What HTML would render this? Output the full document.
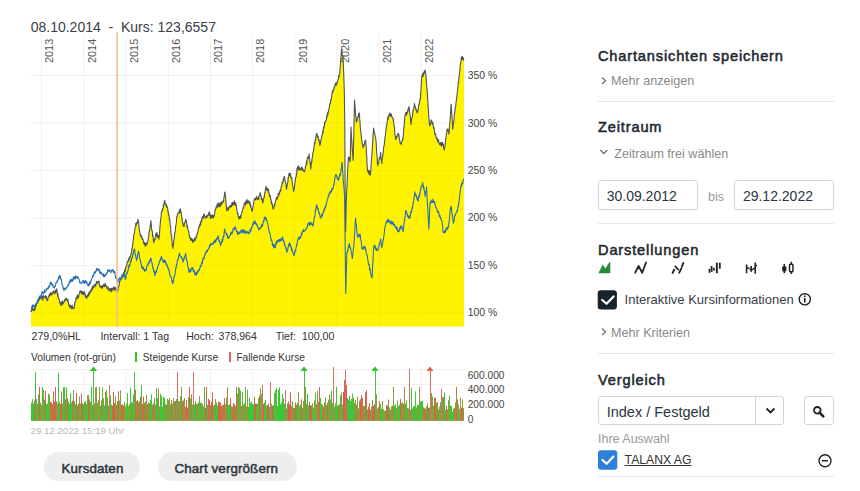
<!DOCTYPE html><html><head><meta charset="utf-8"><style>
*{margin:0;padding:0;box-sizing:border-box}
body{width:860px;height:491px;overflow:hidden;background:#fff;font-family:"Liberation Sans",sans-serif;position:relative;color:#333}
.t{position:absolute;white-space:pre;line-height:1}
.yr{position:absolute;white-space:pre;font-size:10.9px;color:#555;transform:rotate(-90deg);transform-origin:0 0;line-height:1}
.h{font-weight:normal;font-size:14.6px;letter-spacing:0.85px;color:#1e2a32;-webkit-text-stroke:0.55px #1e2a32}
.sub{font-size:12.6px;color:#8a8a8a}
.div{position:absolute;left:598px;width:236px;height:1px;background:#e8e8e8}
.inp{position:absolute;border:1px solid #d4d4d4;border-radius:3px;background:#fff}
.btn{position:absolute;background:#eeeeee;border-radius:15px;height:29px;top:452px;font-weight:normal;font-size:13.4px;letter-spacing:0.1px;color:#2b3640;-webkit-text-stroke:0.5px #2b3640}
</style></head><body>
<svg width="860" height="491" style="position:absolute;left:0;top:0">
<line x1="41.6" y1="34" x2="41.6" y2="326.5" stroke="#f0f0f0" stroke-width="1"/>
<line x1="83.8" y1="34" x2="83.8" y2="326.5" stroke="#f0f0f0" stroke-width="1"/>
<line x1="126.0" y1="34" x2="126.0" y2="326.5" stroke="#f0f0f0" stroke-width="1"/>
<line x1="168.2" y1="34" x2="168.2" y2="326.5" stroke="#f0f0f0" stroke-width="1"/>
<line x1="210.4" y1="34" x2="210.4" y2="326.5" stroke="#f0f0f0" stroke-width="1"/>
<line x1="252.6" y1="34" x2="252.6" y2="326.5" stroke="#f0f0f0" stroke-width="1"/>
<line x1="294.8" y1="34" x2="294.8" y2="326.5" stroke="#f0f0f0" stroke-width="1"/>
<line x1="337.0" y1="34" x2="337.0" y2="326.5" stroke="#f0f0f0" stroke-width="1"/>
<line x1="379.2" y1="34" x2="379.2" y2="326.5" stroke="#f0f0f0" stroke-width="1"/>
<line x1="421.4" y1="34" x2="421.4" y2="326.5" stroke="#f0f0f0" stroke-width="1"/>
<line x1="31" y1="312.9" x2="464" y2="312.9" stroke="#efefef" stroke-width="1"/>
<line x1="31" y1="265.4" x2="464" y2="265.4" stroke="#efefef" stroke-width="1"/>
<line x1="31" y1="217.9" x2="464" y2="217.9" stroke="#efefef" stroke-width="1"/>
<line x1="31" y1="170.5" x2="464" y2="170.5" stroke="#efefef" stroke-width="1"/>
<line x1="31" y1="123.0" x2="464" y2="123.0" stroke="#efefef" stroke-width="1"/>
<line x1="31" y1="75.5" x2="464" y2="75.5" stroke="#efefef" stroke-width="1"/>
<defs><clipPath id="ca"><path d="M31.00,312.00 L31.40,309.50 L31.66,310.85 L31.92,309.50 L32.18,308.64 L32.44,307.23 L32.70,310.01 L32.96,309.22 L33.22,309.98 L33.48,310.31 L33.74,309.79 L34.00,310.89 L34.26,308.62 L34.52,310.20 L34.78,308.11 L35.04,309.54 L35.30,308.85 L35.56,304.96 L35.82,304.10 L36.08,303.34 L36.34,305.81 L36.60,303.70 L36.86,303.33 L37.12,302.76 L37.38,300.66 L37.64,302.36 L37.91,301.47 L38.17,299.55 L38.43,298.55 L38.69,300.51 L38.95,300.22 L39.21,296.94 L39.47,298.75 L39.73,297.69 L39.99,295.80 L40.26,296.62 L40.52,297.91 L40.78,298.35 L41.04,295.58 L41.30,297.90 L41.55,298.19 L41.80,296.45 L42.05,296.02 L42.30,299.18 L42.55,296.74 L42.80,300.32 L43.05,299.23 L43.30,295.56 L43.55,295.92 L43.80,296.18 L44.05,296.94 L44.30,296.76 L44.55,296.65 L44.80,296.70 L45.06,297.87 L45.31,297.70 L45.57,295.45 L45.82,297.05 L46.08,298.26 L46.33,296.66 L46.59,299.16 L46.84,299.39 L47.10,300.80 L47.36,300.55 L47.63,300.59 L47.89,298.08 L48.15,297.66 L48.42,296.26 L48.68,296.36 L48.95,296.48 L49.21,294.51 L49.47,294.76 L49.74,295.80 L50.00,294.40 L50.26,292.54 L50.53,293.75 L50.79,293.65 L51.05,295.24 L51.32,293.05 L51.58,294.53 L51.85,292.55 L52.11,292.95 L52.37,294.20 L52.64,294.12 L52.90,292.70 L53.15,291.27 L53.40,292.99 L53.65,291.16 L53.90,291.57 L54.15,291.87 L54.40,292.43 L54.65,292.27 L54.90,293.64 L55.15,290.28 L55.40,290.30 L55.65,293.01 L55.90,291.77 L56.15,291.73 L56.40,289.80 L56.66,288.81 L56.91,289.86 L57.17,293.32 L57.42,293.18 L57.68,296.31 L57.93,293.62 L58.19,297.73 L58.44,297.58 L58.70,297.90 L58.96,299.46 L59.21,300.38 L59.47,299.97 L59.72,302.99 L59.98,301.86 L60.23,302.16 L60.49,302.39 L60.74,305.40 L61.00,304.90 L61.27,305.11 L61.53,301.97 L61.80,303.98 L62.07,304.97 L62.33,300.83 L62.60,301.31 L62.87,301.56 L63.13,303.16 L63.40,303.70 L63.65,302.28 L63.90,302.48 L64.15,302.09 L64.40,300.81 L64.65,299.71 L64.90,300.05 L65.15,298.93 L65.40,300.28 L65.65,300.60 L65.90,299.87 L66.15,298.15 L66.40,298.60 L66.65,299.22 L66.90,299.10 L67.16,299.38 L67.42,300.65 L67.68,301.57 L67.95,299.40 L68.21,302.20 L68.47,302.68 L68.73,304.88 L68.99,305.54 L69.25,304.68 L69.52,307.37 L69.78,307.32 L70.04,305.97 L70.30,307.20 L70.55,305.36 L70.80,305.74 L71.05,306.19 L71.30,308.62 L71.55,306.77 L71.80,305.74 L72.05,308.59 L72.30,305.28 L72.55,307.95 L72.80,307.36 L73.05,308.07 L73.30,308.63 L73.55,307.88 L73.80,308.40 L74.07,307.70 L74.33,307.59 L74.60,304.45 L74.87,302.64 L75.13,301.87 L75.40,302.05 L75.67,301.58 L75.93,298.07 L76.20,297.90 L76.45,297.68 L76.70,297.63 L76.95,298.65 L77.20,295.18 L77.45,295.08 L77.70,297.75 L77.95,298.36 L78.20,297.04 L78.45,296.35 L78.70,297.07 L78.95,294.43 L79.20,294.12 L79.45,292.75 L79.70,293.30 L79.96,290.90 L80.22,292.20 L80.48,291.55 L80.75,290.78 L81.01,292.20 L81.27,292.40 L81.53,293.94 L81.79,291.34 L82.05,294.01 L82.32,292.41 L82.58,292.28 L82.84,291.69 L83.10,292.10 L83.35,294.86 L83.60,294.21 L83.85,291.90 L84.10,292.04 L84.35,292.67 L84.60,291.98 L84.85,293.84 L85.10,295.45 L85.35,296.69 L85.60,294.65 L85.85,297.57 L86.10,296.38 L86.35,297.20 L86.60,297.30 L86.85,298.53 L87.10,295.71 L87.35,296.62 L87.60,295.05 L87.85,295.05 L88.10,296.52 L88.35,293.30 L88.60,295.41 L88.85,295.48 L89.10,291.94 L89.35,294.15 L89.60,291.75 L89.85,292.96 L90.10,292.10 L90.35,292.66 L90.60,291.67 L90.85,289.74 L91.10,290.71 L91.35,290.64 L91.60,288.42 L91.85,291.01 L92.10,288.70 L92.35,286.24 L92.60,288.63 L92.85,285.92 L93.10,286.88 L93.35,287.74 L93.60,287.40 L93.86,287.66 L94.12,285.48 L94.38,284.83 L94.64,284.42 L94.91,284.58 L95.17,285.51 L95.43,284.40 L95.69,286.37 L95.95,283.35 L96.21,283.09 L96.47,282.17 L96.73,281.51 L96.99,283.76 L97.26,283.81 L97.52,281.61 L97.78,281.28 L98.04,281.53 L98.30,281.60 L98.56,281.31 L98.81,283.10 L99.07,280.93 L99.32,283.90 L99.58,285.23 L99.83,286.54 L100.09,285.30 L100.34,287.21 L100.60,287.40 L100.86,287.21 L101.11,287.11 L101.37,285.94 L101.62,287.11 L101.88,288.45 L102.13,287.84 L102.39,285.86 L102.64,287.64 L102.90,287.02 L103.16,284.79 L103.41,285.88 L103.67,285.45 L103.92,284.08 L104.18,285.18 L104.43,286.65 L104.69,283.98 L104.94,286.09 L105.20,284.50 L105.46,283.62 L105.72,285.24 L105.98,286.19 L106.24,286.43 L106.51,285.90 L106.77,287.91 L107.03,286.68 L107.29,287.69 L107.55,288.78 L107.81,288.26 L108.07,286.77 L108.33,290.28 L108.59,289.62 L108.86,288.74 L109.12,288.61 L109.38,289.76 L109.64,290.54 L109.90,290.90 L110.16,290.32 L110.41,291.05 L110.67,288.22 L110.92,289.39 L111.18,289.82 L111.43,288.37 L111.69,291.98 L111.94,288.87 L112.20,288.32 L112.46,289.62 L112.71,288.50 L112.97,289.91 L113.22,288.57 L113.48,287.57 L113.73,287.09 L113.99,289.10 L114.24,287.00 L114.50,288.00 L114.76,289.15 L115.03,290.74 L115.29,289.14 L115.55,287.67 L115.82,287.97 L116.08,288.58 L116.35,289.65 L116.61,289.80 L116.87,289.59 L117.14,292.13 L117.40,292.10 L117.66,290.37 L117.93,291.08 L118.19,287.63 L118.45,287.37 L118.72,286.31 L118.98,285.36 L119.25,285.22 L119.51,281.09 L119.77,281.79 L120.04,281.20 L120.30,279.30 L120.57,279.84 L120.84,279.50 L121.11,279.12 L121.38,278.08 L121.65,278.02 L121.92,276.21 L122.19,278.28 L122.46,275.55 L122.73,276.44 L123.00,276.30 L123.25,276.48 L123.50,274.27 L123.75,272.10 L124.00,272.10 L124.25,273.49 L124.50,272.97 L124.75,269.50 L125.00,270.37 L125.25,271.77 L125.50,267.23 L125.75,268.17 L126.00,266.88 L126.25,267.11 L126.50,265.62 L126.75,265.76 L127.00,263.10 L127.25,261.83 L127.50,261.61 L127.75,260.94 L128.00,262.00 L128.26,260.56 L128.51,260.67 L128.77,258.87 L129.03,257.90 L129.29,259.87 L129.54,258.30 L129.80,259.16 L130.06,256.34 L130.31,256.92 L130.57,255.81 L130.83,256.75 L131.09,252.76 L131.34,252.33 L131.60,252.00 L131.85,248.13 L132.10,249.26 L132.35,246.91 L132.60,245.12 L132.85,243.69 L133.10,240.04 L133.35,240.00 L133.60,236.63 L133.85,234.39 L134.10,233.83 L134.35,233.41 L134.60,231.73 L134.85,228.83 L135.10,227.60 L135.36,226.97 L135.63,226.62 L135.89,222.96 L136.15,225.88 L136.42,223.20 L136.68,222.61 L136.95,222.52 L137.21,223.24 L137.47,222.58 L137.74,219.88 L138.00,219.40 L138.26,220.95 L138.51,222.10 L138.77,224.21 L139.02,226.59 L139.28,229.01 L139.53,231.47 L139.79,232.06 L140.04,234.33 L140.30,235.70 L140.57,234.49 L140.83,236.21 L141.10,237.10 L141.37,236.70 L141.63,235.99 L141.90,236.79 L142.17,239.62 L142.43,238.81 L142.70,239.20 L142.96,239.15 L143.21,240.50 L143.47,241.01 L143.72,243.73 L143.98,242.93 L144.23,243.04 L144.49,242.43 L144.74,244.71 L145.00,246.20 L145.26,246.25 L145.53,244.35 L145.79,243.05 L146.05,242.90 L146.32,244.46 L146.58,245.09 L146.85,245.05 L147.11,243.08 L147.37,242.61 L147.64,242.33 L147.90,240.30 L148.16,240.21 L148.43,236.75 L148.69,236.66 L148.95,232.41 L149.22,231.66 L149.48,231.22 L149.75,228.67 L150.01,227.41 L150.27,225.33 L150.54,224.07 L150.80,220.60 L151.06,222.68 L151.33,225.25 L151.59,228.74 L151.85,230.55 L152.12,231.18 L152.38,231.20 L152.65,236.11 L152.91,235.14 L153.17,236.97 L153.44,241.38 L153.70,242.70 L153.96,240.27 L154.23,239.04 L154.49,240.75 L154.75,240.07 L155.02,239.10 L155.28,237.63 L155.55,237.16 L155.81,233.20 L156.07,233.12 L156.34,235.97 L156.60,233.40 L156.87,232.70 L157.13,236.42 L157.40,234.30 L157.67,237.48 L157.93,236.79 L158.20,237.01 L158.47,235.53 L158.73,235.78 L159.00,239.20 L159.26,235.69 L159.51,234.54 L159.77,229.09 L160.02,226.28 L160.28,223.33 L160.53,220.04 L160.79,218.39 L161.04,217.26 L161.30,212.40 L161.55,212.69 L161.80,211.23 L162.05,210.04 L162.30,210.96 L162.55,209.02 L162.80,208.80 L163.05,208.95 L163.30,204.85 L163.55,206.38 L163.80,205.95 L164.05,204.76 L164.30,201.24 L164.55,203.37 L164.80,200.20 L165.06,202.87 L165.33,203.32 L165.59,204.39 L165.85,203.77 L166.12,204.07 L166.38,206.87 L166.65,205.34 L166.91,206.76 L167.17,207.51 L167.44,207.03 L167.70,209.00 L167.96,211.68 L168.21,211.09 L168.47,214.99 L168.72,214.04 L168.98,215.05 L169.23,218.67 L169.49,220.18 L169.74,219.62 L170.00,222.90 L170.26,225.44 L170.53,225.59 L170.79,229.10 L171.05,233.72 L171.32,235.82 L171.58,234.96 L171.85,240.55 L172.11,242.28 L172.37,245.99 L172.64,245.61 L172.90,248.50 L173.16,246.06 L173.41,245.52 L173.67,242.02 L173.93,239.36 L174.18,238.71 L174.44,235.90 L174.69,232.58 L174.95,232.75 L175.21,231.61 L175.46,228.04 L175.72,226.22 L175.97,225.00 L176.23,223.42 L176.49,221.15 L176.74,217.48 L177.00,215.90 L177.25,216.72 L177.50,213.69 L177.75,214.05 L178.00,213.81 L178.25,212.90 L178.50,212.43 L178.75,212.76 L179.00,212.86 L179.25,211.97 L179.50,209.74 L179.75,212.86 L180.00,211.49 L180.25,208.81 L180.50,210.10 L180.76,212.34 L181.03,211.61 L181.29,214.08 L181.55,214.49 L181.82,218.72 L182.08,217.98 L182.35,222.07 L182.61,222.56 L182.87,224.53 L183.14,223.84 L183.40,226.40 L183.66,224.69 L183.91,224.22 L184.17,226.17 L184.42,222.75 L184.68,222.88 L184.93,222.01 L185.19,221.49 L185.44,221.84 L185.70,219.40 L185.96,220.09 L186.21,220.05 L186.47,222.83 L186.72,223.11 L186.98,226.44 L187.24,227.61 L187.49,225.59 L187.75,228.26 L188.01,229.50 L188.26,229.50 L188.52,231.35 L188.78,231.39 L189.03,234.89 L189.29,235.36 L189.54,235.26 L189.80,238.00 L190.05,238.13 L190.30,237.44 L190.55,240.13 L190.80,240.50 L191.05,239.24 L191.30,239.50 L191.55,238.24 L191.80,240.28 L192.05,240.10 L192.30,239.33 L192.55,241.35 L192.80,242.63 L193.05,239.87 L193.30,240.30 L193.56,240.47 L193.82,240.43 L194.08,241.31 L194.35,239.30 L194.61,238.08 L194.87,240.93 L195.13,239.56 L195.39,238.12 L195.65,239.03 L195.92,238.45 L196.18,236.16 L196.44,237.57 L196.70,235.70 L196.97,234.82 L197.23,233.32 L197.50,233.59 L197.77,232.34 L198.03,231.01 L198.30,228.89 L198.57,229.12 L198.83,227.18 L199.10,227.60 L199.36,225.20 L199.61,225.00 L199.87,224.19 L200.12,226.08 L200.38,221.70 L200.63,224.51 L200.89,222.15 L201.14,221.40 L201.40,219.71 L201.66,221.71 L201.91,217.76 L202.17,218.52 L202.42,218.09 L202.68,216.58 L202.93,216.86 L203.19,218.59 L203.44,216.65 L203.70,214.80 L203.96,213.87 L204.21,215.16 L204.47,214.74 L204.72,216.55 L204.98,216.49 L205.23,218.48 L205.49,217.15 L205.74,217.05 L206.00,217.10 L206.27,216.32 L206.53,217.63 L206.80,215.23 L207.07,217.16 L207.33,215.56 L207.60,216.35 L207.87,215.49 L208.13,214.64 L208.40,213.60 L208.66,215.23 L208.91,212.78 L209.17,211.78 L209.42,212.05 L209.68,215.29 L209.93,213.91 L210.19,215.19 L210.44,218.69 L210.70,217.47 L210.96,215.85 L211.21,217.77 L211.47,215.10 L211.72,215.73 L211.98,217.38 L212.23,215.42 L212.49,214.99 L212.74,217.56 L213.00,218.30 L213.25,216.45 L213.50,215.51 L213.75,216.17 L214.00,216.78 L214.25,215.09 L214.50,214.97 L214.75,212.20 L215.00,210.54 L215.25,209.49 L215.50,210.09 L215.75,207.79 L216.00,208.57 L216.25,206.31 L216.50,206.60 L216.75,206.46 L217.01,204.64 L217.26,207.57 L217.52,203.76 L217.77,204.03 L218.02,206.41 L218.28,203.06 L218.53,204.70 L218.78,204.83 L219.04,203.43 L219.29,206.97 L219.55,205.74 L219.80,205.50 L220.05,202.81 L220.30,204.80 L220.55,206.54 L220.80,202.71 L221.05,205.16 L221.30,202.28 L221.55,201.72 L221.80,203.97 L222.05,202.70 L222.30,203.12 L222.55,202.13 L222.80,202.44 L223.05,200.54 L223.30,201.90 L223.58,201.76 L223.87,197.95 L224.15,196.91 L224.43,194.78 L224.72,192.51 L225.00,192.00 L225.28,195.17 L225.57,196.64 L225.85,200.12 L226.13,204.61 L226.42,208.00 L226.70,210.00 L226.95,210.79 L227.20,209.84 L227.45,208.55 L227.70,208.74 L227.95,207.40 L228.20,210.09 L228.45,210.01 L228.70,207.66 L228.95,208.40 L229.20,206.41 L229.45,206.24 L229.70,206.24 L229.95,206.02 L230.20,206.50 L230.45,205.25 L230.70,207.25 L230.95,206.38 L231.20,205.93 L231.45,206.63 L231.70,203.41 L231.95,205.19 L232.20,205.14 L232.45,202.52 L232.70,203.92 L232.95,205.32 L233.20,202.18 L233.45,204.67 L233.70,203.00 L233.96,203.72 L234.21,201.78 L234.47,200.76 L234.72,204.68 L234.98,202.73 L235.23,203.42 L235.49,205.38 L235.74,202.70 L236.00,204.20 L236.26,205.51 L236.51,206.88 L236.77,209.30 L237.03,210.88 L237.29,211.76 L237.54,213.20 L237.80,214.70 L238.05,213.53 L238.30,216.73 L238.55,217.80 L238.80,219.00 L239.05,217.71 L239.30,216.52 L239.55,217.92 L239.80,218.60 L240.06,216.55 L240.32,218.32 L240.58,215.64 L240.84,217.86 L241.09,215.30 L241.35,214.00 L241.61,213.53 L241.87,212.13 L242.13,211.74 L242.39,211.52 L242.65,209.84 L242.91,209.01 L243.16,207.58 L243.42,206.95 L243.68,207.71 L243.94,205.13 L244.20,204.20 L244.46,203.87 L244.71,203.17 L244.97,204.11 L245.22,202.10 L245.48,205.24 L245.74,201.27 L245.99,203.47 L246.25,201.04 L246.51,203.46 L246.76,200.82 L247.02,199.61 L247.28,201.53 L247.53,203.08 L247.79,202.93 L248.04,202.27 L248.30,200.70 L248.55,202.70 L248.80,201.18 L249.05,203.04 L249.30,201.38 L249.55,202.67 L249.80,204.63 L250.05,202.60 L250.30,204.09 L250.55,207.05 L250.80,204.88 L251.05,207.78 L251.30,208.07 L251.55,209.10 L251.80,210.75 L252.05,211.25 L252.30,211.20 L252.57,210.71 L252.83,207.25 L253.10,206.75 L253.37,205.26 L253.63,204.16 L253.90,201.16 L254.17,200.19 L254.43,199.16 L254.70,198.40 L254.96,199.47 L255.22,199.39 L255.48,198.34 L255.75,199.98 L256.01,198.35 L256.27,197.39 L256.53,196.53 L256.79,197.04 L257.05,198.71 L257.32,197.88 L257.58,199.67 L257.84,199.56 L258.10,199.50 L258.37,197.67 L258.63,199.61 L258.90,195.75 L259.17,196.56 L259.43,195.44 L259.70,196.13 L259.97,192.90 L260.23,192.83 L260.50,193.70 L260.76,195.52 L261.01,195.65 L261.27,198.29 L261.52,199.61 L261.78,199.81 L262.03,198.17 L262.29,200.88 L262.54,202.35 L262.80,203.00 L263.05,202.12 L263.30,199.92 L263.55,198.72 L263.80,198.40 L264.05,196.54 L264.30,197.80 L264.55,194.64 L264.80,192.21 L265.05,192.40 L265.30,190.91 L265.55,188.17 L265.80,189.89 L266.05,186.35 L266.30,186.70 L266.55,188.26 L266.80,188.47 L267.05,190.28 L267.30,188.48 L267.55,189.75 L267.80,188.89 L268.05,189.38 L268.30,192.12 L268.55,189.28 L268.80,192.61 L269.05,192.87 L269.30,195.62 L269.55,196.33 L269.80,194.90 L270.05,197.06 L270.30,195.82 L270.55,197.48 L270.80,199.91 L271.05,199.42 L271.30,203.63 L271.55,201.12 L271.80,204.02 L272.05,204.67 L272.30,203.76 L272.55,206.37 L272.80,206.90 L273.05,209.26 L273.30,208.80 L273.56,208.58 L273.82,208.10 L274.08,206.03 L274.35,204.08 L274.61,205.84 L274.87,204.73 L275.13,203.42 L275.39,201.79 L275.65,200.34 L275.92,199.64 L276.18,198.36 L276.44,197.18 L276.70,197.20 L276.96,197.66 L277.22,199.49 L277.48,197.63 L277.74,196.74 L278.01,196.74 L278.27,193.27 L278.53,196.30 L278.79,195.35 L279.05,193.92 L279.31,192.44 L279.57,193.76 L279.83,190.78 L280.09,191.61 L280.36,189.50 L280.62,191.14 L280.88,189.54 L281.14,186.98 L281.40,186.70 L281.66,186.09 L281.93,184.97 L282.19,182.01 L282.45,182.26 L282.72,183.15 L282.98,181.85 L283.25,179.17 L283.51,180.25 L283.77,177.46 L284.04,178.72 L284.30,176.30 L284.56,176.72 L284.81,179.55 L285.07,181.16 L285.32,181.35 L285.58,182.68 L285.83,183.54 L286.09,185.49 L286.34,189.29 L286.60,189.00 L286.87,185.46 L287.13,186.80 L287.40,183.04 L287.67,183.08 L287.93,181.35 L288.20,177.35 L288.47,177.46 L288.73,174.70 L289.00,174.00 L289.26,172.97 L289.53,173.70 L289.79,175.32 L290.05,173.58 L290.32,175.84 L290.58,173.86 L290.85,177.37 L291.11,177.20 L291.37,178.62 L291.64,177.34 L291.90,178.60 L292.18,181.69 L292.47,183.93 L292.75,186.04 L293.03,186.93 L293.32,190.11 L293.60,191.40 L293.86,188.95 L294.11,189.72 L294.37,187.86 L294.62,185.83 L294.88,182.81 L295.14,182.28 L295.39,179.04 L295.65,177.66 L295.91,176.84 L296.16,177.13 L296.42,172.93 L296.68,174.47 L296.93,168.41 L297.19,170.55 L297.44,167.21 L297.70,167.00 L297.96,168.72 L298.23,168.35 L298.49,165.86 L298.75,170.10 L299.01,167.93 L299.27,167.21 L299.54,167.91 L299.80,169.30 L300.06,169.46 L300.32,170.37 L300.59,168.84 L300.85,169.05 L301.11,169.44 L301.38,167.16 L301.64,168.38 L301.90,170.04 L302.16,167.33 L302.43,169.42 L302.69,168.55 L302.95,170.35 L303.21,169.48 L303.48,170.76 L303.74,171.48 L304.00,170.70 L304.25,170.82 L304.51,171.92 L304.76,170.06 L305.02,169.83 L305.27,167.00 L305.53,167.25 L305.79,165.20 L306.04,165.27 L306.30,164.20 L306.55,160.93 L306.81,164.20 L307.06,161.31 L307.31,158.42 L307.57,158.79 L307.83,156.69 L308.08,156.96 L308.34,158.48 L308.59,157.10 L308.85,156.34 L309.10,153.80 L309.38,157.47 L309.67,159.46 L309.95,160.98 L310.23,164.90 L310.52,165.04 L310.80,169.00 L311.06,166.43 L311.32,163.16 L311.58,161.44 L311.85,162.14 L312.11,158.48 L312.37,156.71 L312.63,155.95 L312.89,152.08 L313.15,152.21 L313.42,151.56 L313.68,148.86 L313.94,147.68 L314.20,145.40 L314.45,142.59 L314.70,142.35 L314.95,143.93 L315.20,139.20 L315.45,140.75 L315.70,138.80 L315.95,136.11 L316.20,137.15 L316.45,133.73 L316.70,133.50 L316.96,134.09 L317.22,134.69 L317.48,135.65 L317.75,137.74 L318.01,136.31 L318.27,137.75 L318.53,140.25 L318.79,139.13 L319.05,139.57 L319.32,142.74 L319.58,142.04 L319.84,145.44 L320.10,144.50 L320.35,142.66 L320.60,144.09 L320.85,139.59 L321.10,139.85 L321.35,139.07 L321.60,137.82 L321.85,136.12 L322.10,134.70 L322.36,135.13 L322.63,132.80 L322.89,130.15 L323.15,132.83 L323.42,127.65 L323.68,126.93 L323.95,128.14 L324.21,126.60 L324.47,125.20 L324.74,121.86 L325.00,123.00 L325.26,121.22 L325.51,121.76 L325.77,121.31 L326.02,120.08 L326.28,119.61 L326.54,117.63 L326.79,115.27 L327.05,117.37 L327.31,114.16 L327.56,112.61 L327.82,115.10 L328.08,111.87 L328.33,112.56 L328.59,110.35 L328.84,109.20 L329.10,109.00 L329.36,107.08 L329.63,105.08 L329.89,103.67 L330.15,103.21 L330.42,103.45 L330.68,99.75 L330.95,99.66 L331.21,100.21 L331.47,97.74 L331.74,95.14 L332.00,94.00 L332.26,91.36 L332.53,93.31 L332.79,90.38 L333.05,91.37 L333.32,89.25 L333.58,89.33 L333.85,89.91 L334.11,87.57 L334.37,86.55 L334.64,87.20 L334.90,85.80 L335.16,84.33 L335.41,83.26 L335.67,83.12 L335.92,83.58 L336.18,85.36 L336.43,83.21 L336.69,82.74 L336.94,84.02 L337.20,82.30 L337.45,81.52 L337.70,80.84 L337.95,79.86 L338.20,79.51 L338.45,79.32 L338.70,75.51 L338.95,77.70 L339.20,75.15 L339.45,74.06 L339.70,73.80 L339.98,70.05 L340.27,65.70 L340.55,63.19 L340.83,57.79 L341.12,55.70 L341.40,50.10 L341.68,49.77 L341.97,51.95 L342.25,54.86 L342.53,56.39 L342.82,55.97 L343.10,56.90 L343.40,65.87 L343.70,71.97 L344.00,82.28 L344.30,90.70 L344.55,108.55 L344.80,122.80 L345.20,200.00 L345.60,232.00 L345.95,216.76 L346.30,200.00 L346.55,194.26 L346.80,190.26 L347.05,184.52 L347.30,178.56 L347.55,172.98 L347.80,167.12 L348.05,163.67 L348.30,158.00 L348.57,157.17 L348.84,159.44 L349.11,158.28 L349.39,157.34 L349.66,160.31 L349.93,161.91 L350.20,160.50 L350.47,150.03 L350.73,137.95 L351.00,126.70 L351.25,131.45 L351.50,136.90 L351.75,139.90 L352.00,145.00 L352.30,149.95 L352.60,152.56 L352.90,158.02 L353.20,160.50 L353.46,146.58 L353.72,136.71 L353.98,124.79 L354.24,113.21 L354.50,100.00 L354.76,103.84 L355.01,105.91 L355.27,109.42 L355.53,114.95 L355.79,115.36 L356.04,117.68 L356.30,122.00 L356.56,121.91 L356.83,120.25 L357.09,120.84 L357.35,118.06 L357.62,118.09 L357.88,116.22 L358.15,117.02 L358.41,116.10 L358.67,113.19 L358.94,114.84 L359.20,112.80 L359.47,115.15 L359.75,119.89 L360.02,121.38 L360.30,127.23 L360.57,129.33 L360.85,132.04 L361.12,133.81 L361.40,137.00 L361.67,140.35 L361.93,140.66 L362.20,143.10 L362.47,144.60 L362.73,144.49 L363.00,148.00 L363.26,145.75 L363.52,144.81 L363.78,146.10 L364.04,145.46 L364.30,143.99 L364.56,142.56 L364.82,141.46 L365.08,140.74 L365.34,140.62 L365.60,140.00 L365.87,144.58 L366.14,145.25 L366.41,153.42 L366.69,155.81 L366.96,162.35 L367.23,166.43 L367.50,170.70 L367.75,171.13 L368.00,172.16 L368.25,170.28 L368.50,172.79 L368.75,173.87 L369.00,172.66 L369.25,170.62 L369.50,171.55 L369.75,174.92 L370.00,175.34 L370.25,175.02 L370.50,173.80 L370.76,171.23 L371.02,166.76 L371.27,161.25 L371.53,159.40 L371.79,156.44 L372.05,151.46 L372.31,149.24 L372.57,143.43 L372.83,138.44 L373.08,133.74 L373.34,132.45 L373.60,128.00 L373.87,130.10 L374.13,130.44 L374.40,133.32 L374.67,133.24 L374.93,134.79 L375.20,136.68 L375.47,137.57 L375.73,138.09 L376.00,141.00 L376.28,144.40 L376.57,150.18 L376.85,155.19 L377.13,156.21 L377.42,163.48 L377.70,165.60 L377.95,164.50 L378.20,162.59 L378.45,163.58 L378.70,162.55 L378.95,160.24 L379.20,158.00 L379.45,158.47 L379.70,159.00 L379.95,156.49 L380.20,156.93 L380.45,154.96 L380.70,152.40 L380.98,157.01 L381.25,159.80 L381.52,159.71 L381.80,163.60 L382.05,161.33 L382.30,158.93 L382.55,157.68 L382.80,155.59 L383.05,153.14 L383.30,152.81 L383.55,149.22 L383.80,146.24 L384.05,145.31 L384.30,144.95 L384.55,141.41 L384.80,140.20 L385.05,136.25 L385.30,136.22 L385.55,134.18 L385.80,130.00 L386.05,129.90 L386.30,126.33 L386.55,126.06 L386.80,125.00 L387.10,122.04 L387.40,120.92 L387.70,117.40 L387.96,119.64 L388.23,118.43 L388.49,116.32 L388.75,115.20 L389.02,114.98 L389.28,115.70 L389.55,113.02 L389.81,116.08 L390.07,113.25 L390.34,114.97 L390.60,114.00 L390.86,114.62 L391.13,116.68 L391.39,114.07 L391.65,115.95 L391.92,116.53 L392.18,116.90 L392.45,117.79 L392.71,117.67 L392.97,118.11 L393.24,120.72 L393.50,119.80 L393.76,123.47 L394.01,125.01 L394.27,126.58 L394.52,127.35 L394.78,132.76 L395.03,135.33 L395.29,136.06 L395.54,139.02 L395.80,139.50 L396.06,139.48 L396.31,136.72 L396.57,136.45 L396.82,136.36 L397.08,136.75 L397.33,134.47 L397.59,134.58 L397.84,133.94 L398.10,133.70 L398.37,133.34 L398.63,136.03 L398.90,134.75 L399.17,137.69 L399.43,139.30 L399.70,139.87 L399.97,142.16 L400.23,143.41 L400.50,143.00 L400.76,143.46 L401.01,143.15 L401.27,144.63 L401.52,141.56 L401.78,141.72 L402.03,141.24 L402.29,141.14 L402.54,138.59 L402.80,139.50 L403.06,139.20 L403.31,134.84 L403.57,132.17 L403.82,127.29 L404.08,127.71 L404.33,122.40 L404.59,119.08 L404.84,116.97 L405.10,115.10 L405.36,114.07 L405.61,115.18 L405.87,112.25 L406.12,115.07 L406.38,114.47 L406.64,114.89 L406.89,112.19 L407.15,113.40 L407.41,112.71 L407.66,110.30 L407.92,111.50 L408.18,108.60 L408.43,107.94 L408.69,106.91 L408.94,107.40 L409.20,107.00 L409.48,111.74 L409.77,113.11 L410.05,115.15 L410.33,116.12 L410.62,120.53 L410.90,124.40 L411.15,123.46 L411.40,121.21 L411.65,118.93 L411.90,117.80 L412.15,117.78 L412.40,116.91 L412.65,113.13 L412.90,112.74 L413.15,109.30 L413.40,109.38 L413.65,108.19 L413.90,107.59 L414.15,105.88 L414.40,103.50 L414.66,104.58 L414.93,106.96 L415.19,106.37 L415.45,107.79 L415.72,108.89 L415.98,110.29 L416.25,109.14 L416.51,110.72 L416.77,111.85 L417.04,112.65 L417.30,112.80 L417.56,111.98 L417.83,110.60 L418.09,110.83 L418.35,108.86 L418.62,105.66 L418.88,104.35 L419.15,104.31 L419.41,102.19 L419.67,102.71 L419.94,98.90 L420.20,100.00 L420.45,97.13 L420.70,92.77 L420.95,90.04 L421.20,85.20 L421.45,81.26 L421.70,77.20 L421.96,75.51 L422.22,75.14 L422.48,75.83 L422.75,73.38 L423.01,76.59 L423.27,75.96 L423.53,72.76 L423.79,73.60 L424.05,73.72 L424.32,70.78 L424.58,71.42 L424.84,72.56 L425.10,70.40 L425.38,70.65 L425.67,73.93 L425.95,75.55 L426.23,80.13 L426.52,83.65 L426.80,87.30 L427.05,89.90 L427.30,91.65 L427.55,96.84 L427.80,100.00 L428.08,106.11 L428.37,109.33 L428.65,114.08 L428.93,118.65 L429.22,120.27 L429.50,125.60 L429.76,125.64 L430.01,125.18 L430.27,123.71 L430.53,124.30 L430.79,123.52 L431.04,119.80 L431.30,120.90 L431.56,121.32 L431.83,122.74 L432.09,122.56 L432.35,124.13 L432.62,121.74 L432.88,123.07 L433.15,124.51 L433.41,126.11 L433.67,128.60 L433.94,127.37 L434.20,129.00 L434.46,130.14 L434.71,133.07 L434.97,134.82 L435.22,133.64 L435.48,134.92 L435.73,134.22 L435.99,137.54 L436.24,137.37 L436.50,138.40 L436.75,137.68 L437.01,138.17 L437.26,140.08 L437.52,138.69 L437.77,142.02 L438.02,140.30 L438.28,139.81 L438.53,139.67 L438.78,142.16 L439.04,142.78 L439.29,143.75 L439.55,144.39 L439.80,144.20 L440.05,145.03 L440.30,142.58 L440.55,142.97 L440.80,145.21 L441.05,144.85 L441.30,142.66 L441.55,146.17 L441.80,144.48 L442.05,144.06 L442.30,142.37 L442.55,145.14 L442.80,144.00 L443.07,143.88 L443.33,143.80 L443.60,147.90 L443.87,148.48 L444.13,149.06 L444.40,150.20 L444.66,148.13 L444.92,147.31 L445.18,143.89 L445.44,141.95 L445.70,138.88 L445.96,138.33 L446.22,134.96 L446.48,133.63 L446.74,132.52 L447.00,129.30 L447.26,131.08 L447.52,131.12 L447.79,128.89 L448.05,130.00 L448.31,131.04 L448.58,130.30 L448.84,133.96 L449.10,133.50 L449.36,128.59 L449.62,124.13 L449.89,121.50 L450.15,119.77 L450.41,115.67 L450.68,110.54 L450.94,105.95 L451.20,104.20 L451.45,108.43 L451.70,113.74 L451.95,115.94 L452.20,119.95 L452.45,123.69 L452.70,129.30 L452.96,127.70 L453.23,125.99 L453.49,122.32 L453.75,122.16 L454.01,120.05 L454.27,115.41 L454.54,112.98 L454.80,112.60 L455.07,108.96 L455.33,107.22 L455.60,107.24 L455.87,104.10 L456.13,101.82 L456.40,100.00 L456.70,97.58 L457.00,95.93 L457.30,91.99 L457.60,90.20 L457.85,87.70 L458.10,84.37 L458.35,81.61 L458.60,82.41 L458.85,78.26 L459.10,75.82 L459.35,74.88 L459.60,71.40 L459.87,71.25 L460.13,65.91 L460.40,65.29 L460.67,62.60 L460.93,61.89 L461.20,57.80 L461.46,56.95 L461.73,58.04 L461.99,59.11 L462.25,56.25 L462.51,59.32 L462.77,57.26 L463.04,59.60 L463.30,57.80 L463.65,60.24 L464.00,60.00 L464,326.5 L31,326.5 Z"/></clipPath></defs>
<path d="M31.00,312.00 L31.40,309.50 L31.66,310.85 L31.92,309.50 L32.18,308.64 L32.44,307.23 L32.70,310.01 L32.96,309.22 L33.22,309.98 L33.48,310.31 L33.74,309.79 L34.00,310.89 L34.26,308.62 L34.52,310.20 L34.78,308.11 L35.04,309.54 L35.30,308.85 L35.56,304.96 L35.82,304.10 L36.08,303.34 L36.34,305.81 L36.60,303.70 L36.86,303.33 L37.12,302.76 L37.38,300.66 L37.64,302.36 L37.91,301.47 L38.17,299.55 L38.43,298.55 L38.69,300.51 L38.95,300.22 L39.21,296.94 L39.47,298.75 L39.73,297.69 L39.99,295.80 L40.26,296.62 L40.52,297.91 L40.78,298.35 L41.04,295.58 L41.30,297.90 L41.55,298.19 L41.80,296.45 L42.05,296.02 L42.30,299.18 L42.55,296.74 L42.80,300.32 L43.05,299.23 L43.30,295.56 L43.55,295.92 L43.80,296.18 L44.05,296.94 L44.30,296.76 L44.55,296.65 L44.80,296.70 L45.06,297.87 L45.31,297.70 L45.57,295.45 L45.82,297.05 L46.08,298.26 L46.33,296.66 L46.59,299.16 L46.84,299.39 L47.10,300.80 L47.36,300.55 L47.63,300.59 L47.89,298.08 L48.15,297.66 L48.42,296.26 L48.68,296.36 L48.95,296.48 L49.21,294.51 L49.47,294.76 L49.74,295.80 L50.00,294.40 L50.26,292.54 L50.53,293.75 L50.79,293.65 L51.05,295.24 L51.32,293.05 L51.58,294.53 L51.85,292.55 L52.11,292.95 L52.37,294.20 L52.64,294.12 L52.90,292.70 L53.15,291.27 L53.40,292.99 L53.65,291.16 L53.90,291.57 L54.15,291.87 L54.40,292.43 L54.65,292.27 L54.90,293.64 L55.15,290.28 L55.40,290.30 L55.65,293.01 L55.90,291.77 L56.15,291.73 L56.40,289.80 L56.66,288.81 L56.91,289.86 L57.17,293.32 L57.42,293.18 L57.68,296.31 L57.93,293.62 L58.19,297.73 L58.44,297.58 L58.70,297.90 L58.96,299.46 L59.21,300.38 L59.47,299.97 L59.72,302.99 L59.98,301.86 L60.23,302.16 L60.49,302.39 L60.74,305.40 L61.00,304.90 L61.27,305.11 L61.53,301.97 L61.80,303.98 L62.07,304.97 L62.33,300.83 L62.60,301.31 L62.87,301.56 L63.13,303.16 L63.40,303.70 L63.65,302.28 L63.90,302.48 L64.15,302.09 L64.40,300.81 L64.65,299.71 L64.90,300.05 L65.15,298.93 L65.40,300.28 L65.65,300.60 L65.90,299.87 L66.15,298.15 L66.40,298.60 L66.65,299.22 L66.90,299.10 L67.16,299.38 L67.42,300.65 L67.68,301.57 L67.95,299.40 L68.21,302.20 L68.47,302.68 L68.73,304.88 L68.99,305.54 L69.25,304.68 L69.52,307.37 L69.78,307.32 L70.04,305.97 L70.30,307.20 L70.55,305.36 L70.80,305.74 L71.05,306.19 L71.30,308.62 L71.55,306.77 L71.80,305.74 L72.05,308.59 L72.30,305.28 L72.55,307.95 L72.80,307.36 L73.05,308.07 L73.30,308.63 L73.55,307.88 L73.80,308.40 L74.07,307.70 L74.33,307.59 L74.60,304.45 L74.87,302.64 L75.13,301.87 L75.40,302.05 L75.67,301.58 L75.93,298.07 L76.20,297.90 L76.45,297.68 L76.70,297.63 L76.95,298.65 L77.20,295.18 L77.45,295.08 L77.70,297.75 L77.95,298.36 L78.20,297.04 L78.45,296.35 L78.70,297.07 L78.95,294.43 L79.20,294.12 L79.45,292.75 L79.70,293.30 L79.96,290.90 L80.22,292.20 L80.48,291.55 L80.75,290.78 L81.01,292.20 L81.27,292.40 L81.53,293.94 L81.79,291.34 L82.05,294.01 L82.32,292.41 L82.58,292.28 L82.84,291.69 L83.10,292.10 L83.35,294.86 L83.60,294.21 L83.85,291.90 L84.10,292.04 L84.35,292.67 L84.60,291.98 L84.85,293.84 L85.10,295.45 L85.35,296.69 L85.60,294.65 L85.85,297.57 L86.10,296.38 L86.35,297.20 L86.60,297.30 L86.85,298.53 L87.10,295.71 L87.35,296.62 L87.60,295.05 L87.85,295.05 L88.10,296.52 L88.35,293.30 L88.60,295.41 L88.85,295.48 L89.10,291.94 L89.35,294.15 L89.60,291.75 L89.85,292.96 L90.10,292.10 L90.35,292.66 L90.60,291.67 L90.85,289.74 L91.10,290.71 L91.35,290.64 L91.60,288.42 L91.85,291.01 L92.10,288.70 L92.35,286.24 L92.60,288.63 L92.85,285.92 L93.10,286.88 L93.35,287.74 L93.60,287.40 L93.86,287.66 L94.12,285.48 L94.38,284.83 L94.64,284.42 L94.91,284.58 L95.17,285.51 L95.43,284.40 L95.69,286.37 L95.95,283.35 L96.21,283.09 L96.47,282.17 L96.73,281.51 L96.99,283.76 L97.26,283.81 L97.52,281.61 L97.78,281.28 L98.04,281.53 L98.30,281.60 L98.56,281.31 L98.81,283.10 L99.07,280.93 L99.32,283.90 L99.58,285.23 L99.83,286.54 L100.09,285.30 L100.34,287.21 L100.60,287.40 L100.86,287.21 L101.11,287.11 L101.37,285.94 L101.62,287.11 L101.88,288.45 L102.13,287.84 L102.39,285.86 L102.64,287.64 L102.90,287.02 L103.16,284.79 L103.41,285.88 L103.67,285.45 L103.92,284.08 L104.18,285.18 L104.43,286.65 L104.69,283.98 L104.94,286.09 L105.20,284.50 L105.46,283.62 L105.72,285.24 L105.98,286.19 L106.24,286.43 L106.51,285.90 L106.77,287.91 L107.03,286.68 L107.29,287.69 L107.55,288.78 L107.81,288.26 L108.07,286.77 L108.33,290.28 L108.59,289.62 L108.86,288.74 L109.12,288.61 L109.38,289.76 L109.64,290.54 L109.90,290.90 L110.16,290.32 L110.41,291.05 L110.67,288.22 L110.92,289.39 L111.18,289.82 L111.43,288.37 L111.69,291.98 L111.94,288.87 L112.20,288.32 L112.46,289.62 L112.71,288.50 L112.97,289.91 L113.22,288.57 L113.48,287.57 L113.73,287.09 L113.99,289.10 L114.24,287.00 L114.50,288.00 L114.76,289.15 L115.03,290.74 L115.29,289.14 L115.55,287.67 L115.82,287.97 L116.08,288.58 L116.35,289.65 L116.61,289.80 L116.87,289.59 L117.14,292.13 L117.40,292.10 L117.66,290.37 L117.93,291.08 L118.19,287.63 L118.45,287.37 L118.72,286.31 L118.98,285.36 L119.25,285.22 L119.51,281.09 L119.77,281.79 L120.04,281.20 L120.30,279.30 L120.57,279.84 L120.84,279.50 L121.11,279.12 L121.38,278.08 L121.65,278.02 L121.92,276.21 L122.19,278.28 L122.46,275.55 L122.73,276.44 L123.00,276.30 L123.25,276.48 L123.50,274.27 L123.75,272.10 L124.00,272.10 L124.25,273.49 L124.50,272.97 L124.75,269.50 L125.00,270.37 L125.25,271.77 L125.50,267.23 L125.75,268.17 L126.00,266.88 L126.25,267.11 L126.50,265.62 L126.75,265.76 L127.00,263.10 L127.25,261.83 L127.50,261.61 L127.75,260.94 L128.00,262.00 L128.26,260.56 L128.51,260.67 L128.77,258.87 L129.03,257.90 L129.29,259.87 L129.54,258.30 L129.80,259.16 L130.06,256.34 L130.31,256.92 L130.57,255.81 L130.83,256.75 L131.09,252.76 L131.34,252.33 L131.60,252.00 L131.85,248.13 L132.10,249.26 L132.35,246.91 L132.60,245.12 L132.85,243.69 L133.10,240.04 L133.35,240.00 L133.60,236.63 L133.85,234.39 L134.10,233.83 L134.35,233.41 L134.60,231.73 L134.85,228.83 L135.10,227.60 L135.36,226.97 L135.63,226.62 L135.89,222.96 L136.15,225.88 L136.42,223.20 L136.68,222.61 L136.95,222.52 L137.21,223.24 L137.47,222.58 L137.74,219.88 L138.00,219.40 L138.26,220.95 L138.51,222.10 L138.77,224.21 L139.02,226.59 L139.28,229.01 L139.53,231.47 L139.79,232.06 L140.04,234.33 L140.30,235.70 L140.57,234.49 L140.83,236.21 L141.10,237.10 L141.37,236.70 L141.63,235.99 L141.90,236.79 L142.17,239.62 L142.43,238.81 L142.70,239.20 L142.96,239.15 L143.21,240.50 L143.47,241.01 L143.72,243.73 L143.98,242.93 L144.23,243.04 L144.49,242.43 L144.74,244.71 L145.00,246.20 L145.26,246.25 L145.53,244.35 L145.79,243.05 L146.05,242.90 L146.32,244.46 L146.58,245.09 L146.85,245.05 L147.11,243.08 L147.37,242.61 L147.64,242.33 L147.90,240.30 L148.16,240.21 L148.43,236.75 L148.69,236.66 L148.95,232.41 L149.22,231.66 L149.48,231.22 L149.75,228.67 L150.01,227.41 L150.27,225.33 L150.54,224.07 L150.80,220.60 L151.06,222.68 L151.33,225.25 L151.59,228.74 L151.85,230.55 L152.12,231.18 L152.38,231.20 L152.65,236.11 L152.91,235.14 L153.17,236.97 L153.44,241.38 L153.70,242.70 L153.96,240.27 L154.23,239.04 L154.49,240.75 L154.75,240.07 L155.02,239.10 L155.28,237.63 L155.55,237.16 L155.81,233.20 L156.07,233.12 L156.34,235.97 L156.60,233.40 L156.87,232.70 L157.13,236.42 L157.40,234.30 L157.67,237.48 L157.93,236.79 L158.20,237.01 L158.47,235.53 L158.73,235.78 L159.00,239.20 L159.26,235.69 L159.51,234.54 L159.77,229.09 L160.02,226.28 L160.28,223.33 L160.53,220.04 L160.79,218.39 L161.04,217.26 L161.30,212.40 L161.55,212.69 L161.80,211.23 L162.05,210.04 L162.30,210.96 L162.55,209.02 L162.80,208.80 L163.05,208.95 L163.30,204.85 L163.55,206.38 L163.80,205.95 L164.05,204.76 L164.30,201.24 L164.55,203.37 L164.80,200.20 L165.06,202.87 L165.33,203.32 L165.59,204.39 L165.85,203.77 L166.12,204.07 L166.38,206.87 L166.65,205.34 L166.91,206.76 L167.17,207.51 L167.44,207.03 L167.70,209.00 L167.96,211.68 L168.21,211.09 L168.47,214.99 L168.72,214.04 L168.98,215.05 L169.23,218.67 L169.49,220.18 L169.74,219.62 L170.00,222.90 L170.26,225.44 L170.53,225.59 L170.79,229.10 L171.05,233.72 L171.32,235.82 L171.58,234.96 L171.85,240.55 L172.11,242.28 L172.37,245.99 L172.64,245.61 L172.90,248.50 L173.16,246.06 L173.41,245.52 L173.67,242.02 L173.93,239.36 L174.18,238.71 L174.44,235.90 L174.69,232.58 L174.95,232.75 L175.21,231.61 L175.46,228.04 L175.72,226.22 L175.97,225.00 L176.23,223.42 L176.49,221.15 L176.74,217.48 L177.00,215.90 L177.25,216.72 L177.50,213.69 L177.75,214.05 L178.00,213.81 L178.25,212.90 L178.50,212.43 L178.75,212.76 L179.00,212.86 L179.25,211.97 L179.50,209.74 L179.75,212.86 L180.00,211.49 L180.25,208.81 L180.50,210.10 L180.76,212.34 L181.03,211.61 L181.29,214.08 L181.55,214.49 L181.82,218.72 L182.08,217.98 L182.35,222.07 L182.61,222.56 L182.87,224.53 L183.14,223.84 L183.40,226.40 L183.66,224.69 L183.91,224.22 L184.17,226.17 L184.42,222.75 L184.68,222.88 L184.93,222.01 L185.19,221.49 L185.44,221.84 L185.70,219.40 L185.96,220.09 L186.21,220.05 L186.47,222.83 L186.72,223.11 L186.98,226.44 L187.24,227.61 L187.49,225.59 L187.75,228.26 L188.01,229.50 L188.26,229.50 L188.52,231.35 L188.78,231.39 L189.03,234.89 L189.29,235.36 L189.54,235.26 L189.80,238.00 L190.05,238.13 L190.30,237.44 L190.55,240.13 L190.80,240.50 L191.05,239.24 L191.30,239.50 L191.55,238.24 L191.80,240.28 L192.05,240.10 L192.30,239.33 L192.55,241.35 L192.80,242.63 L193.05,239.87 L193.30,240.30 L193.56,240.47 L193.82,240.43 L194.08,241.31 L194.35,239.30 L194.61,238.08 L194.87,240.93 L195.13,239.56 L195.39,238.12 L195.65,239.03 L195.92,238.45 L196.18,236.16 L196.44,237.57 L196.70,235.70 L196.97,234.82 L197.23,233.32 L197.50,233.59 L197.77,232.34 L198.03,231.01 L198.30,228.89 L198.57,229.12 L198.83,227.18 L199.10,227.60 L199.36,225.20 L199.61,225.00 L199.87,224.19 L200.12,226.08 L200.38,221.70 L200.63,224.51 L200.89,222.15 L201.14,221.40 L201.40,219.71 L201.66,221.71 L201.91,217.76 L202.17,218.52 L202.42,218.09 L202.68,216.58 L202.93,216.86 L203.19,218.59 L203.44,216.65 L203.70,214.80 L203.96,213.87 L204.21,215.16 L204.47,214.74 L204.72,216.55 L204.98,216.49 L205.23,218.48 L205.49,217.15 L205.74,217.05 L206.00,217.10 L206.27,216.32 L206.53,217.63 L206.80,215.23 L207.07,217.16 L207.33,215.56 L207.60,216.35 L207.87,215.49 L208.13,214.64 L208.40,213.60 L208.66,215.23 L208.91,212.78 L209.17,211.78 L209.42,212.05 L209.68,215.29 L209.93,213.91 L210.19,215.19 L210.44,218.69 L210.70,217.47 L210.96,215.85 L211.21,217.77 L211.47,215.10 L211.72,215.73 L211.98,217.38 L212.23,215.42 L212.49,214.99 L212.74,217.56 L213.00,218.30 L213.25,216.45 L213.50,215.51 L213.75,216.17 L214.00,216.78 L214.25,215.09 L214.50,214.97 L214.75,212.20 L215.00,210.54 L215.25,209.49 L215.50,210.09 L215.75,207.79 L216.00,208.57 L216.25,206.31 L216.50,206.60 L216.75,206.46 L217.01,204.64 L217.26,207.57 L217.52,203.76 L217.77,204.03 L218.02,206.41 L218.28,203.06 L218.53,204.70 L218.78,204.83 L219.04,203.43 L219.29,206.97 L219.55,205.74 L219.80,205.50 L220.05,202.81 L220.30,204.80 L220.55,206.54 L220.80,202.71 L221.05,205.16 L221.30,202.28 L221.55,201.72 L221.80,203.97 L222.05,202.70 L222.30,203.12 L222.55,202.13 L222.80,202.44 L223.05,200.54 L223.30,201.90 L223.58,201.76 L223.87,197.95 L224.15,196.91 L224.43,194.78 L224.72,192.51 L225.00,192.00 L225.28,195.17 L225.57,196.64 L225.85,200.12 L226.13,204.61 L226.42,208.00 L226.70,210.00 L226.95,210.79 L227.20,209.84 L227.45,208.55 L227.70,208.74 L227.95,207.40 L228.20,210.09 L228.45,210.01 L228.70,207.66 L228.95,208.40 L229.20,206.41 L229.45,206.24 L229.70,206.24 L229.95,206.02 L230.20,206.50 L230.45,205.25 L230.70,207.25 L230.95,206.38 L231.20,205.93 L231.45,206.63 L231.70,203.41 L231.95,205.19 L232.20,205.14 L232.45,202.52 L232.70,203.92 L232.95,205.32 L233.20,202.18 L233.45,204.67 L233.70,203.00 L233.96,203.72 L234.21,201.78 L234.47,200.76 L234.72,204.68 L234.98,202.73 L235.23,203.42 L235.49,205.38 L235.74,202.70 L236.00,204.20 L236.26,205.51 L236.51,206.88 L236.77,209.30 L237.03,210.88 L237.29,211.76 L237.54,213.20 L237.80,214.70 L238.05,213.53 L238.30,216.73 L238.55,217.80 L238.80,219.00 L239.05,217.71 L239.30,216.52 L239.55,217.92 L239.80,218.60 L240.06,216.55 L240.32,218.32 L240.58,215.64 L240.84,217.86 L241.09,215.30 L241.35,214.00 L241.61,213.53 L241.87,212.13 L242.13,211.74 L242.39,211.52 L242.65,209.84 L242.91,209.01 L243.16,207.58 L243.42,206.95 L243.68,207.71 L243.94,205.13 L244.20,204.20 L244.46,203.87 L244.71,203.17 L244.97,204.11 L245.22,202.10 L245.48,205.24 L245.74,201.27 L245.99,203.47 L246.25,201.04 L246.51,203.46 L246.76,200.82 L247.02,199.61 L247.28,201.53 L247.53,203.08 L247.79,202.93 L248.04,202.27 L248.30,200.70 L248.55,202.70 L248.80,201.18 L249.05,203.04 L249.30,201.38 L249.55,202.67 L249.80,204.63 L250.05,202.60 L250.30,204.09 L250.55,207.05 L250.80,204.88 L251.05,207.78 L251.30,208.07 L251.55,209.10 L251.80,210.75 L252.05,211.25 L252.30,211.20 L252.57,210.71 L252.83,207.25 L253.10,206.75 L253.37,205.26 L253.63,204.16 L253.90,201.16 L254.17,200.19 L254.43,199.16 L254.70,198.40 L254.96,199.47 L255.22,199.39 L255.48,198.34 L255.75,199.98 L256.01,198.35 L256.27,197.39 L256.53,196.53 L256.79,197.04 L257.05,198.71 L257.32,197.88 L257.58,199.67 L257.84,199.56 L258.10,199.50 L258.37,197.67 L258.63,199.61 L258.90,195.75 L259.17,196.56 L259.43,195.44 L259.70,196.13 L259.97,192.90 L260.23,192.83 L260.50,193.70 L260.76,195.52 L261.01,195.65 L261.27,198.29 L261.52,199.61 L261.78,199.81 L262.03,198.17 L262.29,200.88 L262.54,202.35 L262.80,203.00 L263.05,202.12 L263.30,199.92 L263.55,198.72 L263.80,198.40 L264.05,196.54 L264.30,197.80 L264.55,194.64 L264.80,192.21 L265.05,192.40 L265.30,190.91 L265.55,188.17 L265.80,189.89 L266.05,186.35 L266.30,186.70 L266.55,188.26 L266.80,188.47 L267.05,190.28 L267.30,188.48 L267.55,189.75 L267.80,188.89 L268.05,189.38 L268.30,192.12 L268.55,189.28 L268.80,192.61 L269.05,192.87 L269.30,195.62 L269.55,196.33 L269.80,194.90 L270.05,197.06 L270.30,195.82 L270.55,197.48 L270.80,199.91 L271.05,199.42 L271.30,203.63 L271.55,201.12 L271.80,204.02 L272.05,204.67 L272.30,203.76 L272.55,206.37 L272.80,206.90 L273.05,209.26 L273.30,208.80 L273.56,208.58 L273.82,208.10 L274.08,206.03 L274.35,204.08 L274.61,205.84 L274.87,204.73 L275.13,203.42 L275.39,201.79 L275.65,200.34 L275.92,199.64 L276.18,198.36 L276.44,197.18 L276.70,197.20 L276.96,197.66 L277.22,199.49 L277.48,197.63 L277.74,196.74 L278.01,196.74 L278.27,193.27 L278.53,196.30 L278.79,195.35 L279.05,193.92 L279.31,192.44 L279.57,193.76 L279.83,190.78 L280.09,191.61 L280.36,189.50 L280.62,191.14 L280.88,189.54 L281.14,186.98 L281.40,186.70 L281.66,186.09 L281.93,184.97 L282.19,182.01 L282.45,182.26 L282.72,183.15 L282.98,181.85 L283.25,179.17 L283.51,180.25 L283.77,177.46 L284.04,178.72 L284.30,176.30 L284.56,176.72 L284.81,179.55 L285.07,181.16 L285.32,181.35 L285.58,182.68 L285.83,183.54 L286.09,185.49 L286.34,189.29 L286.60,189.00 L286.87,185.46 L287.13,186.80 L287.40,183.04 L287.67,183.08 L287.93,181.35 L288.20,177.35 L288.47,177.46 L288.73,174.70 L289.00,174.00 L289.26,172.97 L289.53,173.70 L289.79,175.32 L290.05,173.58 L290.32,175.84 L290.58,173.86 L290.85,177.37 L291.11,177.20 L291.37,178.62 L291.64,177.34 L291.90,178.60 L292.18,181.69 L292.47,183.93 L292.75,186.04 L293.03,186.93 L293.32,190.11 L293.60,191.40 L293.86,188.95 L294.11,189.72 L294.37,187.86 L294.62,185.83 L294.88,182.81 L295.14,182.28 L295.39,179.04 L295.65,177.66 L295.91,176.84 L296.16,177.13 L296.42,172.93 L296.68,174.47 L296.93,168.41 L297.19,170.55 L297.44,167.21 L297.70,167.00 L297.96,168.72 L298.23,168.35 L298.49,165.86 L298.75,170.10 L299.01,167.93 L299.27,167.21 L299.54,167.91 L299.80,169.30 L300.06,169.46 L300.32,170.37 L300.59,168.84 L300.85,169.05 L301.11,169.44 L301.38,167.16 L301.64,168.38 L301.90,170.04 L302.16,167.33 L302.43,169.42 L302.69,168.55 L302.95,170.35 L303.21,169.48 L303.48,170.76 L303.74,171.48 L304.00,170.70 L304.25,170.82 L304.51,171.92 L304.76,170.06 L305.02,169.83 L305.27,167.00 L305.53,167.25 L305.79,165.20 L306.04,165.27 L306.30,164.20 L306.55,160.93 L306.81,164.20 L307.06,161.31 L307.31,158.42 L307.57,158.79 L307.83,156.69 L308.08,156.96 L308.34,158.48 L308.59,157.10 L308.85,156.34 L309.10,153.80 L309.38,157.47 L309.67,159.46 L309.95,160.98 L310.23,164.90 L310.52,165.04 L310.80,169.00 L311.06,166.43 L311.32,163.16 L311.58,161.44 L311.85,162.14 L312.11,158.48 L312.37,156.71 L312.63,155.95 L312.89,152.08 L313.15,152.21 L313.42,151.56 L313.68,148.86 L313.94,147.68 L314.20,145.40 L314.45,142.59 L314.70,142.35 L314.95,143.93 L315.20,139.20 L315.45,140.75 L315.70,138.80 L315.95,136.11 L316.20,137.15 L316.45,133.73 L316.70,133.50 L316.96,134.09 L317.22,134.69 L317.48,135.65 L317.75,137.74 L318.01,136.31 L318.27,137.75 L318.53,140.25 L318.79,139.13 L319.05,139.57 L319.32,142.74 L319.58,142.04 L319.84,145.44 L320.10,144.50 L320.35,142.66 L320.60,144.09 L320.85,139.59 L321.10,139.85 L321.35,139.07 L321.60,137.82 L321.85,136.12 L322.10,134.70 L322.36,135.13 L322.63,132.80 L322.89,130.15 L323.15,132.83 L323.42,127.65 L323.68,126.93 L323.95,128.14 L324.21,126.60 L324.47,125.20 L324.74,121.86 L325.00,123.00 L325.26,121.22 L325.51,121.76 L325.77,121.31 L326.02,120.08 L326.28,119.61 L326.54,117.63 L326.79,115.27 L327.05,117.37 L327.31,114.16 L327.56,112.61 L327.82,115.10 L328.08,111.87 L328.33,112.56 L328.59,110.35 L328.84,109.20 L329.10,109.00 L329.36,107.08 L329.63,105.08 L329.89,103.67 L330.15,103.21 L330.42,103.45 L330.68,99.75 L330.95,99.66 L331.21,100.21 L331.47,97.74 L331.74,95.14 L332.00,94.00 L332.26,91.36 L332.53,93.31 L332.79,90.38 L333.05,91.37 L333.32,89.25 L333.58,89.33 L333.85,89.91 L334.11,87.57 L334.37,86.55 L334.64,87.20 L334.90,85.80 L335.16,84.33 L335.41,83.26 L335.67,83.12 L335.92,83.58 L336.18,85.36 L336.43,83.21 L336.69,82.74 L336.94,84.02 L337.20,82.30 L337.45,81.52 L337.70,80.84 L337.95,79.86 L338.20,79.51 L338.45,79.32 L338.70,75.51 L338.95,77.70 L339.20,75.15 L339.45,74.06 L339.70,73.80 L339.98,70.05 L340.27,65.70 L340.55,63.19 L340.83,57.79 L341.12,55.70 L341.40,50.10 L341.68,49.77 L341.97,51.95 L342.25,54.86 L342.53,56.39 L342.82,55.97 L343.10,56.90 L343.40,65.87 L343.70,71.97 L344.00,82.28 L344.30,90.70 L344.55,108.55 L344.80,122.80 L345.20,200.00 L345.60,232.00 L345.95,216.76 L346.30,200.00 L346.55,194.26 L346.80,190.26 L347.05,184.52 L347.30,178.56 L347.55,172.98 L347.80,167.12 L348.05,163.67 L348.30,158.00 L348.57,157.17 L348.84,159.44 L349.11,158.28 L349.39,157.34 L349.66,160.31 L349.93,161.91 L350.20,160.50 L350.47,150.03 L350.73,137.95 L351.00,126.70 L351.25,131.45 L351.50,136.90 L351.75,139.90 L352.00,145.00 L352.30,149.95 L352.60,152.56 L352.90,158.02 L353.20,160.50 L353.46,146.58 L353.72,136.71 L353.98,124.79 L354.24,113.21 L354.50,100.00 L354.76,103.84 L355.01,105.91 L355.27,109.42 L355.53,114.95 L355.79,115.36 L356.04,117.68 L356.30,122.00 L356.56,121.91 L356.83,120.25 L357.09,120.84 L357.35,118.06 L357.62,118.09 L357.88,116.22 L358.15,117.02 L358.41,116.10 L358.67,113.19 L358.94,114.84 L359.20,112.80 L359.47,115.15 L359.75,119.89 L360.02,121.38 L360.30,127.23 L360.57,129.33 L360.85,132.04 L361.12,133.81 L361.40,137.00 L361.67,140.35 L361.93,140.66 L362.20,143.10 L362.47,144.60 L362.73,144.49 L363.00,148.00 L363.26,145.75 L363.52,144.81 L363.78,146.10 L364.04,145.46 L364.30,143.99 L364.56,142.56 L364.82,141.46 L365.08,140.74 L365.34,140.62 L365.60,140.00 L365.87,144.58 L366.14,145.25 L366.41,153.42 L366.69,155.81 L366.96,162.35 L367.23,166.43 L367.50,170.70 L367.75,171.13 L368.00,172.16 L368.25,170.28 L368.50,172.79 L368.75,173.87 L369.00,172.66 L369.25,170.62 L369.50,171.55 L369.75,174.92 L370.00,175.34 L370.25,175.02 L370.50,173.80 L370.76,171.23 L371.02,166.76 L371.27,161.25 L371.53,159.40 L371.79,156.44 L372.05,151.46 L372.31,149.24 L372.57,143.43 L372.83,138.44 L373.08,133.74 L373.34,132.45 L373.60,128.00 L373.87,130.10 L374.13,130.44 L374.40,133.32 L374.67,133.24 L374.93,134.79 L375.20,136.68 L375.47,137.57 L375.73,138.09 L376.00,141.00 L376.28,144.40 L376.57,150.18 L376.85,155.19 L377.13,156.21 L377.42,163.48 L377.70,165.60 L377.95,164.50 L378.20,162.59 L378.45,163.58 L378.70,162.55 L378.95,160.24 L379.20,158.00 L379.45,158.47 L379.70,159.00 L379.95,156.49 L380.20,156.93 L380.45,154.96 L380.70,152.40 L380.98,157.01 L381.25,159.80 L381.52,159.71 L381.80,163.60 L382.05,161.33 L382.30,158.93 L382.55,157.68 L382.80,155.59 L383.05,153.14 L383.30,152.81 L383.55,149.22 L383.80,146.24 L384.05,145.31 L384.30,144.95 L384.55,141.41 L384.80,140.20 L385.05,136.25 L385.30,136.22 L385.55,134.18 L385.80,130.00 L386.05,129.90 L386.30,126.33 L386.55,126.06 L386.80,125.00 L387.10,122.04 L387.40,120.92 L387.70,117.40 L387.96,119.64 L388.23,118.43 L388.49,116.32 L388.75,115.20 L389.02,114.98 L389.28,115.70 L389.55,113.02 L389.81,116.08 L390.07,113.25 L390.34,114.97 L390.60,114.00 L390.86,114.62 L391.13,116.68 L391.39,114.07 L391.65,115.95 L391.92,116.53 L392.18,116.90 L392.45,117.79 L392.71,117.67 L392.97,118.11 L393.24,120.72 L393.50,119.80 L393.76,123.47 L394.01,125.01 L394.27,126.58 L394.52,127.35 L394.78,132.76 L395.03,135.33 L395.29,136.06 L395.54,139.02 L395.80,139.50 L396.06,139.48 L396.31,136.72 L396.57,136.45 L396.82,136.36 L397.08,136.75 L397.33,134.47 L397.59,134.58 L397.84,133.94 L398.10,133.70 L398.37,133.34 L398.63,136.03 L398.90,134.75 L399.17,137.69 L399.43,139.30 L399.70,139.87 L399.97,142.16 L400.23,143.41 L400.50,143.00 L400.76,143.46 L401.01,143.15 L401.27,144.63 L401.52,141.56 L401.78,141.72 L402.03,141.24 L402.29,141.14 L402.54,138.59 L402.80,139.50 L403.06,139.20 L403.31,134.84 L403.57,132.17 L403.82,127.29 L404.08,127.71 L404.33,122.40 L404.59,119.08 L404.84,116.97 L405.10,115.10 L405.36,114.07 L405.61,115.18 L405.87,112.25 L406.12,115.07 L406.38,114.47 L406.64,114.89 L406.89,112.19 L407.15,113.40 L407.41,112.71 L407.66,110.30 L407.92,111.50 L408.18,108.60 L408.43,107.94 L408.69,106.91 L408.94,107.40 L409.20,107.00 L409.48,111.74 L409.77,113.11 L410.05,115.15 L410.33,116.12 L410.62,120.53 L410.90,124.40 L411.15,123.46 L411.40,121.21 L411.65,118.93 L411.90,117.80 L412.15,117.78 L412.40,116.91 L412.65,113.13 L412.90,112.74 L413.15,109.30 L413.40,109.38 L413.65,108.19 L413.90,107.59 L414.15,105.88 L414.40,103.50 L414.66,104.58 L414.93,106.96 L415.19,106.37 L415.45,107.79 L415.72,108.89 L415.98,110.29 L416.25,109.14 L416.51,110.72 L416.77,111.85 L417.04,112.65 L417.30,112.80 L417.56,111.98 L417.83,110.60 L418.09,110.83 L418.35,108.86 L418.62,105.66 L418.88,104.35 L419.15,104.31 L419.41,102.19 L419.67,102.71 L419.94,98.90 L420.20,100.00 L420.45,97.13 L420.70,92.77 L420.95,90.04 L421.20,85.20 L421.45,81.26 L421.70,77.20 L421.96,75.51 L422.22,75.14 L422.48,75.83 L422.75,73.38 L423.01,76.59 L423.27,75.96 L423.53,72.76 L423.79,73.60 L424.05,73.72 L424.32,70.78 L424.58,71.42 L424.84,72.56 L425.10,70.40 L425.38,70.65 L425.67,73.93 L425.95,75.55 L426.23,80.13 L426.52,83.65 L426.80,87.30 L427.05,89.90 L427.30,91.65 L427.55,96.84 L427.80,100.00 L428.08,106.11 L428.37,109.33 L428.65,114.08 L428.93,118.65 L429.22,120.27 L429.50,125.60 L429.76,125.64 L430.01,125.18 L430.27,123.71 L430.53,124.30 L430.79,123.52 L431.04,119.80 L431.30,120.90 L431.56,121.32 L431.83,122.74 L432.09,122.56 L432.35,124.13 L432.62,121.74 L432.88,123.07 L433.15,124.51 L433.41,126.11 L433.67,128.60 L433.94,127.37 L434.20,129.00 L434.46,130.14 L434.71,133.07 L434.97,134.82 L435.22,133.64 L435.48,134.92 L435.73,134.22 L435.99,137.54 L436.24,137.37 L436.50,138.40 L436.75,137.68 L437.01,138.17 L437.26,140.08 L437.52,138.69 L437.77,142.02 L438.02,140.30 L438.28,139.81 L438.53,139.67 L438.78,142.16 L439.04,142.78 L439.29,143.75 L439.55,144.39 L439.80,144.20 L440.05,145.03 L440.30,142.58 L440.55,142.97 L440.80,145.21 L441.05,144.85 L441.30,142.66 L441.55,146.17 L441.80,144.48 L442.05,144.06 L442.30,142.37 L442.55,145.14 L442.80,144.00 L443.07,143.88 L443.33,143.80 L443.60,147.90 L443.87,148.48 L444.13,149.06 L444.40,150.20 L444.66,148.13 L444.92,147.31 L445.18,143.89 L445.44,141.95 L445.70,138.88 L445.96,138.33 L446.22,134.96 L446.48,133.63 L446.74,132.52 L447.00,129.30 L447.26,131.08 L447.52,131.12 L447.79,128.89 L448.05,130.00 L448.31,131.04 L448.58,130.30 L448.84,133.96 L449.10,133.50 L449.36,128.59 L449.62,124.13 L449.89,121.50 L450.15,119.77 L450.41,115.67 L450.68,110.54 L450.94,105.95 L451.20,104.20 L451.45,108.43 L451.70,113.74 L451.95,115.94 L452.20,119.95 L452.45,123.69 L452.70,129.30 L452.96,127.70 L453.23,125.99 L453.49,122.32 L453.75,122.16 L454.01,120.05 L454.27,115.41 L454.54,112.98 L454.80,112.60 L455.07,108.96 L455.33,107.22 L455.60,107.24 L455.87,104.10 L456.13,101.82 L456.40,100.00 L456.70,97.58 L457.00,95.93 L457.30,91.99 L457.60,90.20 L457.85,87.70 L458.10,84.37 L458.35,81.61 L458.60,82.41 L458.85,78.26 L459.10,75.82 L459.35,74.88 L459.60,71.40 L459.87,71.25 L460.13,65.91 L460.40,65.29 L460.67,62.60 L460.93,61.89 L461.20,57.80 L461.46,56.95 L461.73,58.04 L461.99,59.11 L462.25,56.25 L462.51,59.32 L462.77,57.26 L463.04,59.60 L463.30,57.80 L463.65,60.24 L464.00,60.00 L464,326.5 L31,326.5 Z" fill="#fff300"/>
<g clip-path="url(#ca)">
<line x1="41.6" y1="34" x2="41.6" y2="326.5" stroke="#d8cc00" stroke-opacity="0.18" stroke-width="1"/>
<line x1="83.8" y1="34" x2="83.8" y2="326.5" stroke="#d8cc00" stroke-opacity="0.18" stroke-width="1"/>
<line x1="126.0" y1="34" x2="126.0" y2="326.5" stroke="#d8cc00" stroke-opacity="0.18" stroke-width="1"/>
<line x1="168.2" y1="34" x2="168.2" y2="326.5" stroke="#d8cc00" stroke-opacity="0.18" stroke-width="1"/>
<line x1="210.4" y1="34" x2="210.4" y2="326.5" stroke="#d8cc00" stroke-opacity="0.18" stroke-width="1"/>
<line x1="252.6" y1="34" x2="252.6" y2="326.5" stroke="#d8cc00" stroke-opacity="0.18" stroke-width="1"/>
<line x1="294.8" y1="34" x2="294.8" y2="326.5" stroke="#d8cc00" stroke-opacity="0.18" stroke-width="1"/>
<line x1="337.0" y1="34" x2="337.0" y2="326.5" stroke="#d8cc00" stroke-opacity="0.18" stroke-width="1"/>
<line x1="379.2" y1="34" x2="379.2" y2="326.5" stroke="#d8cc00" stroke-opacity="0.18" stroke-width="1"/>
<line x1="421.4" y1="34" x2="421.4" y2="326.5" stroke="#d8cc00" stroke-opacity="0.18" stroke-width="1"/>
<line x1="31" y1="312.9" x2="464" y2="312.9" stroke="#d8cc00" stroke-opacity="0.18" stroke-width="1"/>
<line x1="31" y1="265.4" x2="464" y2="265.4" stroke="#d8cc00" stroke-opacity="0.18" stroke-width="1"/>
<line x1="31" y1="217.9" x2="464" y2="217.9" stroke="#d8cc00" stroke-opacity="0.18" stroke-width="1"/>
<line x1="31" y1="170.5" x2="464" y2="170.5" stroke="#d8cc00" stroke-opacity="0.18" stroke-width="1"/>
<line x1="31" y1="123.0" x2="464" y2="123.0" stroke="#d8cc00" stroke-opacity="0.18" stroke-width="1"/>
<line x1="31" y1="75.5" x2="464" y2="75.5" stroke="#d8cc00" stroke-opacity="0.18" stroke-width="1"/>
</g>
<path d="M31.00,312.00 L31.40,309.50 L31.66,310.85 L31.92,309.50 L32.18,308.64 L32.44,307.23 L32.70,310.01 L32.96,309.22 L33.22,309.98 L33.48,310.31 L33.74,309.79 L34.00,310.89 L34.26,308.62 L34.52,310.20 L34.78,308.11 L35.04,309.54 L35.30,308.85 L35.56,304.96 L35.82,304.10 L36.08,303.34 L36.34,305.81 L36.60,303.70 L36.86,303.33 L37.12,302.76 L37.38,300.66 L37.64,302.36 L37.91,301.47 L38.17,299.55 L38.43,298.55 L38.69,300.51 L38.95,300.22 L39.21,296.94 L39.47,298.75 L39.73,297.69 L39.99,295.80 L40.26,296.62 L40.52,297.91 L40.78,298.35 L41.04,295.58 L41.30,297.90 L41.55,298.19 L41.80,296.45 L42.05,296.02 L42.30,299.18 L42.55,296.74 L42.80,300.32 L43.05,299.23 L43.30,295.56 L43.55,295.92 L43.80,296.18 L44.05,296.94 L44.30,296.76 L44.55,296.65 L44.80,296.70 L45.06,297.87 L45.31,297.70 L45.57,295.45 L45.82,297.05 L46.08,298.26 L46.33,296.66 L46.59,299.16 L46.84,299.39 L47.10,300.80 L47.36,300.55 L47.63,300.59 L47.89,298.08 L48.15,297.66 L48.42,296.26 L48.68,296.36 L48.95,296.48 L49.21,294.51 L49.47,294.76 L49.74,295.80 L50.00,294.40 L50.26,292.54 L50.53,293.75 L50.79,293.65 L51.05,295.24 L51.32,293.05 L51.58,294.53 L51.85,292.55 L52.11,292.95 L52.37,294.20 L52.64,294.12 L52.90,292.70 L53.15,291.27 L53.40,292.99 L53.65,291.16 L53.90,291.57 L54.15,291.87 L54.40,292.43 L54.65,292.27 L54.90,293.64 L55.15,290.28 L55.40,290.30 L55.65,293.01 L55.90,291.77 L56.15,291.73 L56.40,289.80 L56.66,288.81 L56.91,289.86 L57.17,293.32 L57.42,293.18 L57.68,296.31 L57.93,293.62 L58.19,297.73 L58.44,297.58 L58.70,297.90 L58.96,299.46 L59.21,300.38 L59.47,299.97 L59.72,302.99 L59.98,301.86 L60.23,302.16 L60.49,302.39 L60.74,305.40 L61.00,304.90 L61.27,305.11 L61.53,301.97 L61.80,303.98 L62.07,304.97 L62.33,300.83 L62.60,301.31 L62.87,301.56 L63.13,303.16 L63.40,303.70 L63.65,302.28 L63.90,302.48 L64.15,302.09 L64.40,300.81 L64.65,299.71 L64.90,300.05 L65.15,298.93 L65.40,300.28 L65.65,300.60 L65.90,299.87 L66.15,298.15 L66.40,298.60 L66.65,299.22 L66.90,299.10 L67.16,299.38 L67.42,300.65 L67.68,301.57 L67.95,299.40 L68.21,302.20 L68.47,302.68 L68.73,304.88 L68.99,305.54 L69.25,304.68 L69.52,307.37 L69.78,307.32 L70.04,305.97 L70.30,307.20 L70.55,305.36 L70.80,305.74 L71.05,306.19 L71.30,308.62 L71.55,306.77 L71.80,305.74 L72.05,308.59 L72.30,305.28 L72.55,307.95 L72.80,307.36 L73.05,308.07 L73.30,308.63 L73.55,307.88 L73.80,308.40 L74.07,307.70 L74.33,307.59 L74.60,304.45 L74.87,302.64 L75.13,301.87 L75.40,302.05 L75.67,301.58 L75.93,298.07 L76.20,297.90 L76.45,297.68 L76.70,297.63 L76.95,298.65 L77.20,295.18 L77.45,295.08 L77.70,297.75 L77.95,298.36 L78.20,297.04 L78.45,296.35 L78.70,297.07 L78.95,294.43 L79.20,294.12 L79.45,292.75 L79.70,293.30 L79.96,290.90 L80.22,292.20 L80.48,291.55 L80.75,290.78 L81.01,292.20 L81.27,292.40 L81.53,293.94 L81.79,291.34 L82.05,294.01 L82.32,292.41 L82.58,292.28 L82.84,291.69 L83.10,292.10 L83.35,294.86 L83.60,294.21 L83.85,291.90 L84.10,292.04 L84.35,292.67 L84.60,291.98 L84.85,293.84 L85.10,295.45 L85.35,296.69 L85.60,294.65 L85.85,297.57 L86.10,296.38 L86.35,297.20 L86.60,297.30 L86.85,298.53 L87.10,295.71 L87.35,296.62 L87.60,295.05 L87.85,295.05 L88.10,296.52 L88.35,293.30 L88.60,295.41 L88.85,295.48 L89.10,291.94 L89.35,294.15 L89.60,291.75 L89.85,292.96 L90.10,292.10 L90.35,292.66 L90.60,291.67 L90.85,289.74 L91.10,290.71 L91.35,290.64 L91.60,288.42 L91.85,291.01 L92.10,288.70 L92.35,286.24 L92.60,288.63 L92.85,285.92 L93.10,286.88 L93.35,287.74 L93.60,287.40 L93.86,287.66 L94.12,285.48 L94.38,284.83 L94.64,284.42 L94.91,284.58 L95.17,285.51 L95.43,284.40 L95.69,286.37 L95.95,283.35 L96.21,283.09 L96.47,282.17 L96.73,281.51 L96.99,283.76 L97.26,283.81 L97.52,281.61 L97.78,281.28 L98.04,281.53 L98.30,281.60 L98.56,281.31 L98.81,283.10 L99.07,280.93 L99.32,283.90 L99.58,285.23 L99.83,286.54 L100.09,285.30 L100.34,287.21 L100.60,287.40 L100.86,287.21 L101.11,287.11 L101.37,285.94 L101.62,287.11 L101.88,288.45 L102.13,287.84 L102.39,285.86 L102.64,287.64 L102.90,287.02 L103.16,284.79 L103.41,285.88 L103.67,285.45 L103.92,284.08 L104.18,285.18 L104.43,286.65 L104.69,283.98 L104.94,286.09 L105.20,284.50 L105.46,283.62 L105.72,285.24 L105.98,286.19 L106.24,286.43 L106.51,285.90 L106.77,287.91 L107.03,286.68 L107.29,287.69 L107.55,288.78 L107.81,288.26 L108.07,286.77 L108.33,290.28 L108.59,289.62 L108.86,288.74 L109.12,288.61 L109.38,289.76 L109.64,290.54 L109.90,290.90 L110.16,290.32 L110.41,291.05 L110.67,288.22 L110.92,289.39 L111.18,289.82 L111.43,288.37 L111.69,291.98 L111.94,288.87 L112.20,288.32 L112.46,289.62 L112.71,288.50 L112.97,289.91 L113.22,288.57 L113.48,287.57 L113.73,287.09 L113.99,289.10 L114.24,287.00 L114.50,288.00 L114.76,289.15 L115.03,290.74 L115.29,289.14 L115.55,287.67 L115.82,287.97 L116.08,288.58 L116.35,289.65 L116.61,289.80 L116.87,289.59 L117.14,292.13 L117.40,292.10 L117.66,290.37 L117.93,291.08 L118.19,287.63 L118.45,287.37 L118.72,286.31 L118.98,285.36 L119.25,285.22 L119.51,281.09 L119.77,281.79 L120.04,281.20 L120.30,279.30 L120.57,279.84 L120.84,279.50 L121.11,279.12 L121.38,278.08 L121.65,278.02 L121.92,276.21 L122.19,278.28 L122.46,275.55 L122.73,276.44 L123.00,276.30 L123.25,276.48 L123.50,274.27 L123.75,272.10 L124.00,272.10 L124.25,273.49 L124.50,272.97 L124.75,269.50 L125.00,270.37 L125.25,271.77 L125.50,267.23 L125.75,268.17 L126.00,266.88 L126.25,267.11 L126.50,265.62 L126.75,265.76 L127.00,263.10 L127.25,261.83 L127.50,261.61 L127.75,260.94 L128.00,262.00 L128.26,260.56 L128.51,260.67 L128.77,258.87 L129.03,257.90 L129.29,259.87 L129.54,258.30 L129.80,259.16 L130.06,256.34 L130.31,256.92 L130.57,255.81 L130.83,256.75 L131.09,252.76 L131.34,252.33 L131.60,252.00 L131.85,248.13 L132.10,249.26 L132.35,246.91 L132.60,245.12 L132.85,243.69 L133.10,240.04 L133.35,240.00 L133.60,236.63 L133.85,234.39 L134.10,233.83 L134.35,233.41 L134.60,231.73 L134.85,228.83 L135.10,227.60 L135.36,226.97 L135.63,226.62 L135.89,222.96 L136.15,225.88 L136.42,223.20 L136.68,222.61 L136.95,222.52 L137.21,223.24 L137.47,222.58 L137.74,219.88 L138.00,219.40 L138.26,220.95 L138.51,222.10 L138.77,224.21 L139.02,226.59 L139.28,229.01 L139.53,231.47 L139.79,232.06 L140.04,234.33 L140.30,235.70 L140.57,234.49 L140.83,236.21 L141.10,237.10 L141.37,236.70 L141.63,235.99 L141.90,236.79 L142.17,239.62 L142.43,238.81 L142.70,239.20 L142.96,239.15 L143.21,240.50 L143.47,241.01 L143.72,243.73 L143.98,242.93 L144.23,243.04 L144.49,242.43 L144.74,244.71 L145.00,246.20 L145.26,246.25 L145.53,244.35 L145.79,243.05 L146.05,242.90 L146.32,244.46 L146.58,245.09 L146.85,245.05 L147.11,243.08 L147.37,242.61 L147.64,242.33 L147.90,240.30 L148.16,240.21 L148.43,236.75 L148.69,236.66 L148.95,232.41 L149.22,231.66 L149.48,231.22 L149.75,228.67 L150.01,227.41 L150.27,225.33 L150.54,224.07 L150.80,220.60 L151.06,222.68 L151.33,225.25 L151.59,228.74 L151.85,230.55 L152.12,231.18 L152.38,231.20 L152.65,236.11 L152.91,235.14 L153.17,236.97 L153.44,241.38 L153.70,242.70 L153.96,240.27 L154.23,239.04 L154.49,240.75 L154.75,240.07 L155.02,239.10 L155.28,237.63 L155.55,237.16 L155.81,233.20 L156.07,233.12 L156.34,235.97 L156.60,233.40 L156.87,232.70 L157.13,236.42 L157.40,234.30 L157.67,237.48 L157.93,236.79 L158.20,237.01 L158.47,235.53 L158.73,235.78 L159.00,239.20 L159.26,235.69 L159.51,234.54 L159.77,229.09 L160.02,226.28 L160.28,223.33 L160.53,220.04 L160.79,218.39 L161.04,217.26 L161.30,212.40 L161.55,212.69 L161.80,211.23 L162.05,210.04 L162.30,210.96 L162.55,209.02 L162.80,208.80 L163.05,208.95 L163.30,204.85 L163.55,206.38 L163.80,205.95 L164.05,204.76 L164.30,201.24 L164.55,203.37 L164.80,200.20 L165.06,202.87 L165.33,203.32 L165.59,204.39 L165.85,203.77 L166.12,204.07 L166.38,206.87 L166.65,205.34 L166.91,206.76 L167.17,207.51 L167.44,207.03 L167.70,209.00 L167.96,211.68 L168.21,211.09 L168.47,214.99 L168.72,214.04 L168.98,215.05 L169.23,218.67 L169.49,220.18 L169.74,219.62 L170.00,222.90 L170.26,225.44 L170.53,225.59 L170.79,229.10 L171.05,233.72 L171.32,235.82 L171.58,234.96 L171.85,240.55 L172.11,242.28 L172.37,245.99 L172.64,245.61 L172.90,248.50 L173.16,246.06 L173.41,245.52 L173.67,242.02 L173.93,239.36 L174.18,238.71 L174.44,235.90 L174.69,232.58 L174.95,232.75 L175.21,231.61 L175.46,228.04 L175.72,226.22 L175.97,225.00 L176.23,223.42 L176.49,221.15 L176.74,217.48 L177.00,215.90 L177.25,216.72 L177.50,213.69 L177.75,214.05 L178.00,213.81 L178.25,212.90 L178.50,212.43 L178.75,212.76 L179.00,212.86 L179.25,211.97 L179.50,209.74 L179.75,212.86 L180.00,211.49 L180.25,208.81 L180.50,210.10 L180.76,212.34 L181.03,211.61 L181.29,214.08 L181.55,214.49 L181.82,218.72 L182.08,217.98 L182.35,222.07 L182.61,222.56 L182.87,224.53 L183.14,223.84 L183.40,226.40 L183.66,224.69 L183.91,224.22 L184.17,226.17 L184.42,222.75 L184.68,222.88 L184.93,222.01 L185.19,221.49 L185.44,221.84 L185.70,219.40 L185.96,220.09 L186.21,220.05 L186.47,222.83 L186.72,223.11 L186.98,226.44 L187.24,227.61 L187.49,225.59 L187.75,228.26 L188.01,229.50 L188.26,229.50 L188.52,231.35 L188.78,231.39 L189.03,234.89 L189.29,235.36 L189.54,235.26 L189.80,238.00 L190.05,238.13 L190.30,237.44 L190.55,240.13 L190.80,240.50 L191.05,239.24 L191.30,239.50 L191.55,238.24 L191.80,240.28 L192.05,240.10 L192.30,239.33 L192.55,241.35 L192.80,242.63 L193.05,239.87 L193.30,240.30 L193.56,240.47 L193.82,240.43 L194.08,241.31 L194.35,239.30 L194.61,238.08 L194.87,240.93 L195.13,239.56 L195.39,238.12 L195.65,239.03 L195.92,238.45 L196.18,236.16 L196.44,237.57 L196.70,235.70 L196.97,234.82 L197.23,233.32 L197.50,233.59 L197.77,232.34 L198.03,231.01 L198.30,228.89 L198.57,229.12 L198.83,227.18 L199.10,227.60 L199.36,225.20 L199.61,225.00 L199.87,224.19 L200.12,226.08 L200.38,221.70 L200.63,224.51 L200.89,222.15 L201.14,221.40 L201.40,219.71 L201.66,221.71 L201.91,217.76 L202.17,218.52 L202.42,218.09 L202.68,216.58 L202.93,216.86 L203.19,218.59 L203.44,216.65 L203.70,214.80 L203.96,213.87 L204.21,215.16 L204.47,214.74 L204.72,216.55 L204.98,216.49 L205.23,218.48 L205.49,217.15 L205.74,217.05 L206.00,217.10 L206.27,216.32 L206.53,217.63 L206.80,215.23 L207.07,217.16 L207.33,215.56 L207.60,216.35 L207.87,215.49 L208.13,214.64 L208.40,213.60 L208.66,215.23 L208.91,212.78 L209.17,211.78 L209.42,212.05 L209.68,215.29 L209.93,213.91 L210.19,215.19 L210.44,218.69 L210.70,217.47 L210.96,215.85 L211.21,217.77 L211.47,215.10 L211.72,215.73 L211.98,217.38 L212.23,215.42 L212.49,214.99 L212.74,217.56 L213.00,218.30 L213.25,216.45 L213.50,215.51 L213.75,216.17 L214.00,216.78 L214.25,215.09 L214.50,214.97 L214.75,212.20 L215.00,210.54 L215.25,209.49 L215.50,210.09 L215.75,207.79 L216.00,208.57 L216.25,206.31 L216.50,206.60 L216.75,206.46 L217.01,204.64 L217.26,207.57 L217.52,203.76 L217.77,204.03 L218.02,206.41 L218.28,203.06 L218.53,204.70 L218.78,204.83 L219.04,203.43 L219.29,206.97 L219.55,205.74 L219.80,205.50 L220.05,202.81 L220.30,204.80 L220.55,206.54 L220.80,202.71 L221.05,205.16 L221.30,202.28 L221.55,201.72 L221.80,203.97 L222.05,202.70 L222.30,203.12 L222.55,202.13 L222.80,202.44 L223.05,200.54 L223.30,201.90 L223.58,201.76 L223.87,197.95 L224.15,196.91 L224.43,194.78 L224.72,192.51 L225.00,192.00 L225.28,195.17 L225.57,196.64 L225.85,200.12 L226.13,204.61 L226.42,208.00 L226.70,210.00 L226.95,210.79 L227.20,209.84 L227.45,208.55 L227.70,208.74 L227.95,207.40 L228.20,210.09 L228.45,210.01 L228.70,207.66 L228.95,208.40 L229.20,206.41 L229.45,206.24 L229.70,206.24 L229.95,206.02 L230.20,206.50 L230.45,205.25 L230.70,207.25 L230.95,206.38 L231.20,205.93 L231.45,206.63 L231.70,203.41 L231.95,205.19 L232.20,205.14 L232.45,202.52 L232.70,203.92 L232.95,205.32 L233.20,202.18 L233.45,204.67 L233.70,203.00 L233.96,203.72 L234.21,201.78 L234.47,200.76 L234.72,204.68 L234.98,202.73 L235.23,203.42 L235.49,205.38 L235.74,202.70 L236.00,204.20 L236.26,205.51 L236.51,206.88 L236.77,209.30 L237.03,210.88 L237.29,211.76 L237.54,213.20 L237.80,214.70 L238.05,213.53 L238.30,216.73 L238.55,217.80 L238.80,219.00 L239.05,217.71 L239.30,216.52 L239.55,217.92 L239.80,218.60 L240.06,216.55 L240.32,218.32 L240.58,215.64 L240.84,217.86 L241.09,215.30 L241.35,214.00 L241.61,213.53 L241.87,212.13 L242.13,211.74 L242.39,211.52 L242.65,209.84 L242.91,209.01 L243.16,207.58 L243.42,206.95 L243.68,207.71 L243.94,205.13 L244.20,204.20 L244.46,203.87 L244.71,203.17 L244.97,204.11 L245.22,202.10 L245.48,205.24 L245.74,201.27 L245.99,203.47 L246.25,201.04 L246.51,203.46 L246.76,200.82 L247.02,199.61 L247.28,201.53 L247.53,203.08 L247.79,202.93 L248.04,202.27 L248.30,200.70 L248.55,202.70 L248.80,201.18 L249.05,203.04 L249.30,201.38 L249.55,202.67 L249.80,204.63 L250.05,202.60 L250.30,204.09 L250.55,207.05 L250.80,204.88 L251.05,207.78 L251.30,208.07 L251.55,209.10 L251.80,210.75 L252.05,211.25 L252.30,211.20 L252.57,210.71 L252.83,207.25 L253.10,206.75 L253.37,205.26 L253.63,204.16 L253.90,201.16 L254.17,200.19 L254.43,199.16 L254.70,198.40 L254.96,199.47 L255.22,199.39 L255.48,198.34 L255.75,199.98 L256.01,198.35 L256.27,197.39 L256.53,196.53 L256.79,197.04 L257.05,198.71 L257.32,197.88 L257.58,199.67 L257.84,199.56 L258.10,199.50 L258.37,197.67 L258.63,199.61 L258.90,195.75 L259.17,196.56 L259.43,195.44 L259.70,196.13 L259.97,192.90 L260.23,192.83 L260.50,193.70 L260.76,195.52 L261.01,195.65 L261.27,198.29 L261.52,199.61 L261.78,199.81 L262.03,198.17 L262.29,200.88 L262.54,202.35 L262.80,203.00 L263.05,202.12 L263.30,199.92 L263.55,198.72 L263.80,198.40 L264.05,196.54 L264.30,197.80 L264.55,194.64 L264.80,192.21 L265.05,192.40 L265.30,190.91 L265.55,188.17 L265.80,189.89 L266.05,186.35 L266.30,186.70 L266.55,188.26 L266.80,188.47 L267.05,190.28 L267.30,188.48 L267.55,189.75 L267.80,188.89 L268.05,189.38 L268.30,192.12 L268.55,189.28 L268.80,192.61 L269.05,192.87 L269.30,195.62 L269.55,196.33 L269.80,194.90 L270.05,197.06 L270.30,195.82 L270.55,197.48 L270.80,199.91 L271.05,199.42 L271.30,203.63 L271.55,201.12 L271.80,204.02 L272.05,204.67 L272.30,203.76 L272.55,206.37 L272.80,206.90 L273.05,209.26 L273.30,208.80 L273.56,208.58 L273.82,208.10 L274.08,206.03 L274.35,204.08 L274.61,205.84 L274.87,204.73 L275.13,203.42 L275.39,201.79 L275.65,200.34 L275.92,199.64 L276.18,198.36 L276.44,197.18 L276.70,197.20 L276.96,197.66 L277.22,199.49 L277.48,197.63 L277.74,196.74 L278.01,196.74 L278.27,193.27 L278.53,196.30 L278.79,195.35 L279.05,193.92 L279.31,192.44 L279.57,193.76 L279.83,190.78 L280.09,191.61 L280.36,189.50 L280.62,191.14 L280.88,189.54 L281.14,186.98 L281.40,186.70 L281.66,186.09 L281.93,184.97 L282.19,182.01 L282.45,182.26 L282.72,183.15 L282.98,181.85 L283.25,179.17 L283.51,180.25 L283.77,177.46 L284.04,178.72 L284.30,176.30 L284.56,176.72 L284.81,179.55 L285.07,181.16 L285.32,181.35 L285.58,182.68 L285.83,183.54 L286.09,185.49 L286.34,189.29 L286.60,189.00 L286.87,185.46 L287.13,186.80 L287.40,183.04 L287.67,183.08 L287.93,181.35 L288.20,177.35 L288.47,177.46 L288.73,174.70 L289.00,174.00 L289.26,172.97 L289.53,173.70 L289.79,175.32 L290.05,173.58 L290.32,175.84 L290.58,173.86 L290.85,177.37 L291.11,177.20 L291.37,178.62 L291.64,177.34 L291.90,178.60 L292.18,181.69 L292.47,183.93 L292.75,186.04 L293.03,186.93 L293.32,190.11 L293.60,191.40 L293.86,188.95 L294.11,189.72 L294.37,187.86 L294.62,185.83 L294.88,182.81 L295.14,182.28 L295.39,179.04 L295.65,177.66 L295.91,176.84 L296.16,177.13 L296.42,172.93 L296.68,174.47 L296.93,168.41 L297.19,170.55 L297.44,167.21 L297.70,167.00 L297.96,168.72 L298.23,168.35 L298.49,165.86 L298.75,170.10 L299.01,167.93 L299.27,167.21 L299.54,167.91 L299.80,169.30 L300.06,169.46 L300.32,170.37 L300.59,168.84 L300.85,169.05 L301.11,169.44 L301.38,167.16 L301.64,168.38 L301.90,170.04 L302.16,167.33 L302.43,169.42 L302.69,168.55 L302.95,170.35 L303.21,169.48 L303.48,170.76 L303.74,171.48 L304.00,170.70 L304.25,170.82 L304.51,171.92 L304.76,170.06 L305.02,169.83 L305.27,167.00 L305.53,167.25 L305.79,165.20 L306.04,165.27 L306.30,164.20 L306.55,160.93 L306.81,164.20 L307.06,161.31 L307.31,158.42 L307.57,158.79 L307.83,156.69 L308.08,156.96 L308.34,158.48 L308.59,157.10 L308.85,156.34 L309.10,153.80 L309.38,157.47 L309.67,159.46 L309.95,160.98 L310.23,164.90 L310.52,165.04 L310.80,169.00 L311.06,166.43 L311.32,163.16 L311.58,161.44 L311.85,162.14 L312.11,158.48 L312.37,156.71 L312.63,155.95 L312.89,152.08 L313.15,152.21 L313.42,151.56 L313.68,148.86 L313.94,147.68 L314.20,145.40 L314.45,142.59 L314.70,142.35 L314.95,143.93 L315.20,139.20 L315.45,140.75 L315.70,138.80 L315.95,136.11 L316.20,137.15 L316.45,133.73 L316.70,133.50 L316.96,134.09 L317.22,134.69 L317.48,135.65 L317.75,137.74 L318.01,136.31 L318.27,137.75 L318.53,140.25 L318.79,139.13 L319.05,139.57 L319.32,142.74 L319.58,142.04 L319.84,145.44 L320.10,144.50 L320.35,142.66 L320.60,144.09 L320.85,139.59 L321.10,139.85 L321.35,139.07 L321.60,137.82 L321.85,136.12 L322.10,134.70 L322.36,135.13 L322.63,132.80 L322.89,130.15 L323.15,132.83 L323.42,127.65 L323.68,126.93 L323.95,128.14 L324.21,126.60 L324.47,125.20 L324.74,121.86 L325.00,123.00 L325.26,121.22 L325.51,121.76 L325.77,121.31 L326.02,120.08 L326.28,119.61 L326.54,117.63 L326.79,115.27 L327.05,117.37 L327.31,114.16 L327.56,112.61 L327.82,115.10 L328.08,111.87 L328.33,112.56 L328.59,110.35 L328.84,109.20 L329.10,109.00 L329.36,107.08 L329.63,105.08 L329.89,103.67 L330.15,103.21 L330.42,103.45 L330.68,99.75 L330.95,99.66 L331.21,100.21 L331.47,97.74 L331.74,95.14 L332.00,94.00 L332.26,91.36 L332.53,93.31 L332.79,90.38 L333.05,91.37 L333.32,89.25 L333.58,89.33 L333.85,89.91 L334.11,87.57 L334.37,86.55 L334.64,87.20 L334.90,85.80 L335.16,84.33 L335.41,83.26 L335.67,83.12 L335.92,83.58 L336.18,85.36 L336.43,83.21 L336.69,82.74 L336.94,84.02 L337.20,82.30 L337.45,81.52 L337.70,80.84 L337.95,79.86 L338.20,79.51 L338.45,79.32 L338.70,75.51 L338.95,77.70 L339.20,75.15 L339.45,74.06 L339.70,73.80 L339.98,70.05 L340.27,65.70 L340.55,63.19 L340.83,57.79 L341.12,55.70 L341.40,50.10 L341.68,49.77 L341.97,51.95 L342.25,54.86 L342.53,56.39 L342.82,55.97 L343.10,56.90 L343.40,65.87 L343.70,71.97 L344.00,82.28 L344.30,90.70 L344.55,108.55 L344.80,122.80 L345.20,200.00 L345.60,232.00 L345.95,216.76 L346.30,200.00 L346.55,194.26 L346.80,190.26 L347.05,184.52 L347.30,178.56 L347.55,172.98 L347.80,167.12 L348.05,163.67 L348.30,158.00 L348.57,157.17 L348.84,159.44 L349.11,158.28 L349.39,157.34 L349.66,160.31 L349.93,161.91 L350.20,160.50 L350.47,150.03 L350.73,137.95 L351.00,126.70 L351.25,131.45 L351.50,136.90 L351.75,139.90 L352.00,145.00 L352.30,149.95 L352.60,152.56 L352.90,158.02 L353.20,160.50 L353.46,146.58 L353.72,136.71 L353.98,124.79 L354.24,113.21 L354.50,100.00 L354.76,103.84 L355.01,105.91 L355.27,109.42 L355.53,114.95 L355.79,115.36 L356.04,117.68 L356.30,122.00 L356.56,121.91 L356.83,120.25 L357.09,120.84 L357.35,118.06 L357.62,118.09 L357.88,116.22 L358.15,117.02 L358.41,116.10 L358.67,113.19 L358.94,114.84 L359.20,112.80 L359.47,115.15 L359.75,119.89 L360.02,121.38 L360.30,127.23 L360.57,129.33 L360.85,132.04 L361.12,133.81 L361.40,137.00 L361.67,140.35 L361.93,140.66 L362.20,143.10 L362.47,144.60 L362.73,144.49 L363.00,148.00 L363.26,145.75 L363.52,144.81 L363.78,146.10 L364.04,145.46 L364.30,143.99 L364.56,142.56 L364.82,141.46 L365.08,140.74 L365.34,140.62 L365.60,140.00 L365.87,144.58 L366.14,145.25 L366.41,153.42 L366.69,155.81 L366.96,162.35 L367.23,166.43 L367.50,170.70 L367.75,171.13 L368.00,172.16 L368.25,170.28 L368.50,172.79 L368.75,173.87 L369.00,172.66 L369.25,170.62 L369.50,171.55 L369.75,174.92 L370.00,175.34 L370.25,175.02 L370.50,173.80 L370.76,171.23 L371.02,166.76 L371.27,161.25 L371.53,159.40 L371.79,156.44 L372.05,151.46 L372.31,149.24 L372.57,143.43 L372.83,138.44 L373.08,133.74 L373.34,132.45 L373.60,128.00 L373.87,130.10 L374.13,130.44 L374.40,133.32 L374.67,133.24 L374.93,134.79 L375.20,136.68 L375.47,137.57 L375.73,138.09 L376.00,141.00 L376.28,144.40 L376.57,150.18 L376.85,155.19 L377.13,156.21 L377.42,163.48 L377.70,165.60 L377.95,164.50 L378.20,162.59 L378.45,163.58 L378.70,162.55 L378.95,160.24 L379.20,158.00 L379.45,158.47 L379.70,159.00 L379.95,156.49 L380.20,156.93 L380.45,154.96 L380.70,152.40 L380.98,157.01 L381.25,159.80 L381.52,159.71 L381.80,163.60 L382.05,161.33 L382.30,158.93 L382.55,157.68 L382.80,155.59 L383.05,153.14 L383.30,152.81 L383.55,149.22 L383.80,146.24 L384.05,145.31 L384.30,144.95 L384.55,141.41 L384.80,140.20 L385.05,136.25 L385.30,136.22 L385.55,134.18 L385.80,130.00 L386.05,129.90 L386.30,126.33 L386.55,126.06 L386.80,125.00 L387.10,122.04 L387.40,120.92 L387.70,117.40 L387.96,119.64 L388.23,118.43 L388.49,116.32 L388.75,115.20 L389.02,114.98 L389.28,115.70 L389.55,113.02 L389.81,116.08 L390.07,113.25 L390.34,114.97 L390.60,114.00 L390.86,114.62 L391.13,116.68 L391.39,114.07 L391.65,115.95 L391.92,116.53 L392.18,116.90 L392.45,117.79 L392.71,117.67 L392.97,118.11 L393.24,120.72 L393.50,119.80 L393.76,123.47 L394.01,125.01 L394.27,126.58 L394.52,127.35 L394.78,132.76 L395.03,135.33 L395.29,136.06 L395.54,139.02 L395.80,139.50 L396.06,139.48 L396.31,136.72 L396.57,136.45 L396.82,136.36 L397.08,136.75 L397.33,134.47 L397.59,134.58 L397.84,133.94 L398.10,133.70 L398.37,133.34 L398.63,136.03 L398.90,134.75 L399.17,137.69 L399.43,139.30 L399.70,139.87 L399.97,142.16 L400.23,143.41 L400.50,143.00 L400.76,143.46 L401.01,143.15 L401.27,144.63 L401.52,141.56 L401.78,141.72 L402.03,141.24 L402.29,141.14 L402.54,138.59 L402.80,139.50 L403.06,139.20 L403.31,134.84 L403.57,132.17 L403.82,127.29 L404.08,127.71 L404.33,122.40 L404.59,119.08 L404.84,116.97 L405.10,115.10 L405.36,114.07 L405.61,115.18 L405.87,112.25 L406.12,115.07 L406.38,114.47 L406.64,114.89 L406.89,112.19 L407.15,113.40 L407.41,112.71 L407.66,110.30 L407.92,111.50 L408.18,108.60 L408.43,107.94 L408.69,106.91 L408.94,107.40 L409.20,107.00 L409.48,111.74 L409.77,113.11 L410.05,115.15 L410.33,116.12 L410.62,120.53 L410.90,124.40 L411.15,123.46 L411.40,121.21 L411.65,118.93 L411.90,117.80 L412.15,117.78 L412.40,116.91 L412.65,113.13 L412.90,112.74 L413.15,109.30 L413.40,109.38 L413.65,108.19 L413.90,107.59 L414.15,105.88 L414.40,103.50 L414.66,104.58 L414.93,106.96 L415.19,106.37 L415.45,107.79 L415.72,108.89 L415.98,110.29 L416.25,109.14 L416.51,110.72 L416.77,111.85 L417.04,112.65 L417.30,112.80 L417.56,111.98 L417.83,110.60 L418.09,110.83 L418.35,108.86 L418.62,105.66 L418.88,104.35 L419.15,104.31 L419.41,102.19 L419.67,102.71 L419.94,98.90 L420.20,100.00 L420.45,97.13 L420.70,92.77 L420.95,90.04 L421.20,85.20 L421.45,81.26 L421.70,77.20 L421.96,75.51 L422.22,75.14 L422.48,75.83 L422.75,73.38 L423.01,76.59 L423.27,75.96 L423.53,72.76 L423.79,73.60 L424.05,73.72 L424.32,70.78 L424.58,71.42 L424.84,72.56 L425.10,70.40 L425.38,70.65 L425.67,73.93 L425.95,75.55 L426.23,80.13 L426.52,83.65 L426.80,87.30 L427.05,89.90 L427.30,91.65 L427.55,96.84 L427.80,100.00 L428.08,106.11 L428.37,109.33 L428.65,114.08 L428.93,118.65 L429.22,120.27 L429.50,125.60 L429.76,125.64 L430.01,125.18 L430.27,123.71 L430.53,124.30 L430.79,123.52 L431.04,119.80 L431.30,120.90 L431.56,121.32 L431.83,122.74 L432.09,122.56 L432.35,124.13 L432.62,121.74 L432.88,123.07 L433.15,124.51 L433.41,126.11 L433.67,128.60 L433.94,127.37 L434.20,129.00 L434.46,130.14 L434.71,133.07 L434.97,134.82 L435.22,133.64 L435.48,134.92 L435.73,134.22 L435.99,137.54 L436.24,137.37 L436.50,138.40 L436.75,137.68 L437.01,138.17 L437.26,140.08 L437.52,138.69 L437.77,142.02 L438.02,140.30 L438.28,139.81 L438.53,139.67 L438.78,142.16 L439.04,142.78 L439.29,143.75 L439.55,144.39 L439.80,144.20 L440.05,145.03 L440.30,142.58 L440.55,142.97 L440.80,145.21 L441.05,144.85 L441.30,142.66 L441.55,146.17 L441.80,144.48 L442.05,144.06 L442.30,142.37 L442.55,145.14 L442.80,144.00 L443.07,143.88 L443.33,143.80 L443.60,147.90 L443.87,148.48 L444.13,149.06 L444.40,150.20 L444.66,148.13 L444.92,147.31 L445.18,143.89 L445.44,141.95 L445.70,138.88 L445.96,138.33 L446.22,134.96 L446.48,133.63 L446.74,132.52 L447.00,129.30 L447.26,131.08 L447.52,131.12 L447.79,128.89 L448.05,130.00 L448.31,131.04 L448.58,130.30 L448.84,133.96 L449.10,133.50 L449.36,128.59 L449.62,124.13 L449.89,121.50 L450.15,119.77 L450.41,115.67 L450.68,110.54 L450.94,105.95 L451.20,104.20 L451.45,108.43 L451.70,113.74 L451.95,115.94 L452.20,119.95 L452.45,123.69 L452.70,129.30 L452.96,127.70 L453.23,125.99 L453.49,122.32 L453.75,122.16 L454.01,120.05 L454.27,115.41 L454.54,112.98 L454.80,112.60 L455.07,108.96 L455.33,107.22 L455.60,107.24 L455.87,104.10 L456.13,101.82 L456.40,100.00 L456.70,97.58 L457.00,95.93 L457.30,91.99 L457.60,90.20 L457.85,87.70 L458.10,84.37 L458.35,81.61 L458.60,82.41 L458.85,78.26 L459.10,75.82 L459.35,74.88 L459.60,71.40 L459.87,71.25 L460.13,65.91 L460.40,65.29 L460.67,62.60 L460.93,61.89 L461.20,57.80 L461.46,56.95 L461.73,58.04 L461.99,59.11 L462.25,56.25 L462.51,59.32 L462.77,57.26 L463.04,59.60 L463.30,57.80 L463.65,60.24 L464.00,60.00" fill="none" stroke="#4f5458" stroke-width="1.1" stroke-linejoin="round"/>
<path d="M31.40,307.20 L31.66,308.40 L31.92,305.72 L32.18,307.94 L32.44,305.98 L32.70,305.01 L32.96,304.71 L33.22,305.67 L33.48,307.27 L33.74,305.71 L34.00,306.91 L34.26,307.15 L34.52,306.31 L34.78,305.97 L35.04,304.79 L35.30,304.89 L35.56,305.44 L35.82,305.98 L36.08,304.33 L36.34,303.47 L36.60,303.70 L36.85,303.17 L37.10,302.48 L37.36,301.48 L37.61,303.00 L37.86,302.82 L38.11,300.70 L38.37,300.39 L38.62,297.94 L38.87,299.99 L39.12,298.92 L39.37,299.27 L39.63,299.60 L39.88,297.94 L40.13,298.17 L40.38,298.64 L40.63,296.05 L40.89,296.86 L41.14,295.59 L41.39,294.68 L41.64,293.45 L41.90,294.36 L42.15,291.65 L42.40,292.10 L42.66,292.30 L42.91,291.97 L43.17,292.81 L43.43,293.91 L43.68,292.79 L43.94,291.53 L44.20,291.83 L44.45,292.43 L44.71,289.81 L44.97,292.39 L45.22,291.57 L45.48,291.29 L45.73,291.08 L45.99,290.52 L46.25,289.59 L46.50,288.68 L46.76,290.30 L47.02,288.43 L47.27,288.58 L47.53,288.21 L47.79,287.94 L48.04,288.27 L48.30,288.60 L48.56,287.45 L48.81,286.80 L49.07,285.50 L49.32,287.14 L49.58,286.81 L49.83,284.60 L50.09,284.39 L50.34,282.05 L50.60,282.80 L50.85,283.68 L51.10,282.71 L51.35,283.29 L51.60,282.63 L51.85,285.29 L52.10,284.64 L52.35,285.48 L52.60,284.67 L52.85,284.19 L53.10,286.31 L53.35,287.29 L53.60,287.45 L53.85,287.42 L54.10,287.40 L54.36,288.12 L54.63,286.37 L54.89,286.64 L55.15,286.34 L55.42,286.25 L55.68,283.88 L55.95,283.01 L56.21,282.85 L56.47,282.30 L56.74,281.75 L57.00,282.80 L57.26,280.65 L57.53,281.30 L57.79,279.71 L58.05,280.18 L58.32,279.73 L58.58,276.84 L58.85,276.93 L59.11,278.40 L59.37,277.90 L59.64,275.31 L59.90,275.80 L60.16,275.87 L60.41,278.14 L60.67,278.97 L60.92,278.57 L61.18,279.02 L61.44,280.43 L61.69,281.72 L61.95,284.19 L62.21,283.91 L62.46,284.83 L62.72,285.20 L62.98,288.37 L63.23,287.54 L63.49,289.27 L63.74,290.30 L64.00,289.80 L64.26,289.55 L64.52,288.74 L64.78,288.30 L65.04,289.98 L65.30,288.67 L65.56,288.03 L65.82,288.26 L66.08,288.93 L66.34,287.32 L66.60,287.59 L66.86,287.04 L67.12,286.88 L67.38,286.90 L67.64,285.21 L67.90,285.31 L68.16,284.51 L68.42,285.50 L68.68,283.94 L68.94,284.14 L69.20,282.80 L69.45,281.34 L69.70,283.13 L69.95,282.62 L70.20,279.85 L70.45,281.45 L70.70,281.62 L70.95,278.95 L71.20,281.28 L71.45,279.74 L71.70,280.09 L71.95,281.52 L72.20,281.43 L72.45,279.50 L72.70,280.50 L72.95,280.72 L73.20,277.36 L73.45,277.81 L73.70,276.71 L73.95,278.92 L74.20,276.83 L74.45,276.80 L74.70,277.98 L74.95,279.26 L75.20,278.64 L75.45,276.73 L75.70,275.83 L75.95,278.43 L76.20,276.96 L76.45,277.07 L76.70,277.00 L76.96,276.53 L77.21,276.55 L77.47,278.13 L77.72,277.39 L77.98,276.87 L78.24,278.28 L78.49,278.72 L78.75,278.94 L79.01,278.97 L79.26,280.01 L79.52,282.13 L79.78,281.84 L80.03,283.14 L80.29,282.08 L80.54,283.01 L80.80,282.80 L81.06,283.39 L81.32,283.29 L81.58,283.04 L81.84,283.01 L82.11,282.84 L82.37,281.61 L82.63,281.68 L82.89,280.39 L83.15,282.50 L83.41,281.63 L83.67,281.80 L83.93,281.01 L84.19,283.43 L84.46,283.68 L84.72,282.62 L84.98,280.70 L85.24,280.49 L85.50,281.60 L85.76,280.90 L86.01,283.04 L86.27,281.67 L86.52,282.19 L86.78,281.64 L87.03,282.80 L87.29,284.34 L87.54,285.09 L87.80,285.10 L88.05,285.46 L88.30,286.00 L88.55,284.43 L88.80,283.79 L89.05,285.70 L89.30,282.98 L89.55,284.34 L89.80,283.67 L90.05,281.31 L90.30,283.54 L90.55,282.78 L90.80,281.25 L91.05,281.11 L91.30,279.30 L91.56,279.41 L91.81,278.81 L92.07,278.08 L92.32,277.06 L92.58,275.64 L92.83,276.96 L93.09,276.72 L93.34,275.09 L93.60,275.35 L93.86,274.93 L94.11,272.67 L94.37,274.01 L94.62,272.42 L94.88,271.57 L95.13,271.64 L95.39,272.82 L95.64,271.18 L95.90,271.20 L96.15,271.46 L96.40,268.70 L96.65,268.53 L96.90,269.30 L97.15,269.97 L97.40,270.25 L97.65,270.40 L97.90,268.76 L98.15,269.45 L98.40,269.29 L98.65,269.63 L98.90,268.99 L99.15,271.43 L99.40,270.00 L99.66,270.73 L99.92,273.35 L100.18,273.19 L100.44,272.05 L100.71,273.55 L100.97,272.84 L101.23,272.24 L101.49,272.39 L101.75,274.13 L102.01,274.62 L102.27,274.77 L102.53,274.50 L102.79,275.20 L103.06,275.30 L103.32,276.08 L103.58,273.71 L103.84,276.83 L104.10,277.00 L104.36,275.87 L104.61,275.24 L104.87,276.11 L105.12,274.34 L105.38,274.70 L105.63,275.73 L105.89,274.71 L106.14,274.32 L106.40,273.88 L106.66,274.23 L106.91,273.52 L107.17,272.21 L107.42,272.21 L107.68,269.84 L107.93,272.08 L108.19,271.25 L108.44,271.43 L108.70,271.20 L108.95,269.79 L109.20,269.56 L109.46,270.13 L109.71,271.10 L109.96,270.60 L110.21,271.30 L110.47,271.05 L110.72,272.20 L110.97,272.97 L111.22,271.22 L111.47,270.07 L111.73,270.63 L111.98,270.68 L112.23,270.68 L112.48,270.25 L112.73,269.49 L112.99,270.20 L113.24,272.43 L113.49,270.24 L113.74,270.98 L114.00,271.44 L114.25,273.00 L114.50,272.30 L114.75,271.57 L115.00,273.60 L115.25,276.34 L115.50,276.82 L115.75,278.15 L116.00,278.23 L116.25,277.21 L116.50,278.11 L116.75,278.28 L117.00,280.28 L117.25,281.56 L117.50,282.88 L117.75,282.07 L118.00,281.60 L118.25,280.19 L118.50,279.27 L118.75,279.67 L119.00,278.96 L119.25,278.18 L119.50,278.11 L119.75,279.09 L120.00,277.09 L120.25,278.62 L120.50,278.53 L120.75,279.38 L121.00,278.33 L121.25,278.95 L121.50,277.00 L121.75,277.53 L122.01,274.90 L122.26,274.16 L122.52,274.88 L122.77,276.05 L123.02,276.52 L123.28,274.48 L123.53,276.59 L123.78,276.27 L124.04,275.14 L124.29,273.61 L124.55,275.66 L124.80,274.70 L125.10,279.20 L125.36,278.65 L125.62,277.14 L125.88,278.74 L126.15,275.26 L126.41,273.61 L126.67,273.13 L126.93,272.97 L127.19,273.61 L127.45,272.85 L127.72,270.82 L127.98,270.94 L128.24,269.98 L128.50,267.60 L128.75,265.53 L129.00,267.50 L129.25,265.10 L129.50,264.45 L129.75,265.69 L130.00,265.02 L130.25,262.73 L130.50,261.08 L130.75,261.41 L131.00,260.54 L131.25,261.74 L131.50,258.76 L131.75,257.80 L132.00,258.30 L132.26,258.08 L132.51,257.42 L132.77,253.99 L133.02,253.18 L133.28,254.20 L133.53,252.00 L133.79,250.05 L134.04,250.40 L134.30,249.00 L134.56,249.20 L134.81,250.95 L135.07,253.89 L135.32,255.81 L135.58,255.29 L135.83,256.61 L136.09,257.99 L136.34,259.45 L136.60,260.60 L136.86,259.13 L137.11,257.94 L137.37,258.26 L137.63,254.26 L137.89,253.77 L138.14,253.56 L138.40,251.30 L138.65,251.27 L138.90,252.84 L139.15,254.64 L139.40,256.38 L139.65,257.74 L139.90,258.48 L140.15,260.07 L140.40,260.45 L140.65,262.74 L140.90,262.10 L141.15,264.13 L141.40,265.00 L141.65,267.42 L141.90,267.60 L142.15,268.20 L142.40,268.50 L142.65,269.16 L142.90,266.67 L143.15,267.81 L143.40,267.85 L143.65,267.78 L143.90,270.05 L144.15,269.40 L144.40,271.10 L144.65,269.52 L144.90,271.22 L145.15,270.90 L145.40,269.66 L145.65,270.20 L145.90,269.90 L146.16,270.41 L146.42,269.20 L146.68,266.99 L146.94,265.91 L147.21,265.76 L147.47,265.64 L147.73,265.65 L147.99,263.52 L148.25,263.29 L148.51,264.19 L148.77,263.27 L149.03,262.03 L149.29,261.18 L149.56,262.84 L149.82,260.27 L150.08,260.23 L150.34,258.66 L150.60,258.30 L150.86,260.67 L151.11,258.28 L151.37,261.19 L151.62,261.72 L151.88,262.97 L152.13,262.99 L152.39,264.94 L152.64,266.53 L152.90,268.64 L153.16,267.43 L153.41,269.16 L153.67,271.16 L153.92,272.09 L154.18,271.00 L154.43,271.31 L154.69,274.66 L154.94,275.68 L155.20,274.50 L155.45,272.22 L155.70,272.93 L155.96,272.83 L156.21,270.37 L156.46,271.87 L156.71,269.52 L156.97,269.91 L157.22,269.18 L157.47,268.47 L157.72,266.87 L157.97,266.20 L158.23,265.27 L158.48,264.59 L158.73,264.72 L158.98,263.13 L159.23,262.49 L159.49,260.99 L159.74,261.64 L159.99,260.50 L160.24,259.27 L160.50,260.39 L160.75,259.59 L161.00,257.10 L161.26,258.48 L161.52,256.42 L161.78,258.68 L162.04,259.43 L162.31,259.28 L162.57,260.18 L162.83,259.03 L163.09,261.96 L163.35,260.67 L163.61,262.36 L163.87,262.42 L164.13,260.33 L164.39,262.42 L164.66,262.38 L164.92,259.94 L165.18,261.09 L165.44,262.17 L165.70,261.70 L165.95,263.84 L166.20,264.20 L166.45,265.03 L166.70,263.98 L166.95,266.47 L167.20,265.20 L167.45,267.03 L167.70,267.51 L167.95,266.96 L168.20,269.34 L168.45,268.65 L168.70,269.16 L168.95,270.49 L169.20,269.90 L169.45,272.87 L169.70,272.92 L169.95,274.66 L170.20,276.26 L170.45,276.05 L170.70,276.84 L170.95,277.26 L171.20,277.18 L171.45,277.68 L171.70,279.50 L171.95,281.53 L172.20,281.97 L172.45,283.09 L172.70,283.80 L172.95,282.69 L173.20,280.31 L173.45,281.59 L173.70,278.94 L173.95,277.47 L174.20,276.09 L174.45,276.37 L174.70,276.02 L174.95,274.33 L175.20,272.22 L175.45,270.07 L175.70,267.79 L175.95,268.65 L176.20,267.60 L176.45,264.63 L176.70,264.96 L176.95,264.70 L177.20,260.80 L177.45,260.52 L177.70,260.34 L177.95,258.92 L178.20,259.17 L178.45,259.09 L178.70,256.20 L178.95,255.21 L179.20,254.24 L179.45,253.09 L179.70,253.60 L179.96,255.58 L180.22,255.54 L180.48,256.61 L180.75,256.79 L181.01,256.50 L181.27,257.38 L181.53,256.93 L181.79,258.78 L182.05,258.30 L182.32,258.25 L182.58,260.27 L182.84,262.07 L183.10,261.70 L183.37,260.06 L183.63,260.70 L183.90,258.74 L184.17,257.60 L184.43,258.43 L184.70,256.45 L184.97,256.16 L185.23,255.56 L185.50,253.60 L185.75,254.05 L186.00,255.59 L186.25,259.79 L186.50,258.82 L186.75,259.88 L187.00,260.53 L187.25,261.84 L187.50,264.58 L187.75,265.66 L188.00,267.50 L188.25,268.86 L188.50,268.09 L188.75,271.24 L189.00,272.20 L189.26,271.62 L189.52,272.37 L189.78,271.75 L190.05,269.42 L190.31,269.24 L190.57,269.15 L190.83,271.62 L191.09,268.96 L191.35,269.10 L191.62,269.16 L191.88,267.60 L192.14,267.94 L192.40,268.70 L192.65,268.56 L192.90,267.87 L193.15,270.93 L193.40,268.77 L193.65,271.67 L193.90,270.66 L194.15,270.46 L194.40,271.85 L194.65,273.45 L194.90,274.97 L195.15,272.56 L195.40,273.73 L195.65,274.45 L195.90,274.50 L196.15,273.41 L196.40,275.48 L196.66,272.19 L196.91,271.89 L197.16,271.65 L197.41,273.31 L197.67,271.38 L197.92,270.94 L198.17,271.90 L198.42,269.68 L198.67,270.62 L198.93,270.19 L199.18,270.44 L199.43,269.89 L199.68,269.00 L199.93,267.85 L200.19,266.68 L200.44,265.89 L200.69,266.91 L200.94,265.66 L201.20,265.84 L201.45,262.95 L201.70,264.10 L201.96,261.77 L202.22,263.74 L202.48,262.12 L202.74,259.45 L203.01,260.44 L203.27,257.40 L203.53,257.59 L203.79,259.01 L204.05,257.54 L204.31,257.34 L204.57,255.91 L204.83,254.30 L205.09,255.14 L205.36,253.15 L205.62,252.52 L205.88,252.87 L206.14,251.34 L206.40,252.40 L206.65,251.15 L206.90,250.68 L207.15,251.61 L207.40,251.22 L207.65,250.20 L207.90,249.24 L208.15,249.71 L208.40,249.30 L208.65,248.21 L208.90,247.70 L209.15,247.31 L209.40,247.62 L209.65,245.00 L209.90,245.50 L210.16,244.87 L210.41,244.02 L210.67,245.67 L210.92,245.45 L211.18,244.11 L211.43,243.25 L211.69,243.99 L211.94,243.99 L212.20,243.88 L212.46,243.55 L212.71,244.11 L212.97,244.49 L213.22,243.05 L213.48,241.99 L213.73,243.13 L213.99,241.18 L214.24,242.65 L214.50,242.00 L214.75,239.99 L215.00,241.43 L215.25,242.37 L215.50,241.45 L215.75,239.84 L216.00,241.12 L216.25,239.24 L216.50,238.56 L216.75,238.19 L217.00,239.59 L217.25,238.49 L217.50,237.71 L217.75,236.41 L218.00,236.20 L218.26,235.87 L218.51,238.96 L218.77,239.02 L219.02,241.50 L219.28,240.30 L219.53,241.08 L219.79,242.00 L220.04,243.15 L220.30,244.30 L220.55,245.37 L220.80,245.16 L221.05,244.36 L221.30,241.91 L221.55,243.16 L221.80,242.12 L222.05,240.19 L222.30,239.25 L222.55,241.67 L222.80,239.90 L223.05,237.72 L223.30,236.14 L223.55,236.59 L223.80,237.30 L224.10,233.71 L224.40,230.19 L224.70,229.00 L224.96,230.30 L225.22,232.01 L225.48,232.33 L225.75,233.11 L226.01,233.24 L226.27,233.29 L226.53,234.71 L226.79,233.41 L227.05,235.67 L227.32,234.69 L227.58,236.79 L227.84,238.29 L228.10,238.40 L228.35,237.60 L228.60,236.81 L228.85,236.49 L229.10,237.83 L229.35,235.94 L229.60,235.79 L229.85,235.62 L230.10,235.32 L230.35,235.15 L230.60,232.96 L230.85,234.65 L231.10,233.29 L231.35,233.30 L231.60,231.93 L231.85,231.90 L232.10,233.66 L232.35,232.56 L232.60,232.29 L232.85,229.71 L233.10,228.80 L233.35,229.60 L233.60,229.70 L233.85,229.56 L234.10,229.85 L234.35,227.29 L234.60,228.96 L234.85,228.58 L235.10,226.70 L235.35,228.33 L235.60,229.02 L235.85,228.15 L236.10,230.07 L236.35,230.07 L236.60,231.94 L236.85,231.47 L237.10,231.78 L237.35,231.51 L237.60,234.54 L237.85,234.58 L238.10,233.90 L238.35,233.22 L238.60,233.70 L238.86,231.68 L239.12,233.08 L239.38,232.92 L239.64,233.58 L239.91,233.51 L240.17,231.78 L240.43,231.97 L240.69,230.77 L240.95,232.77 L241.21,230.75 L241.47,229.69 L241.73,229.76 L241.99,229.86 L242.26,232.06 L242.52,230.36 L242.78,233.05 L243.04,229.80 L243.30,231.40 L243.55,231.59 L243.80,232.22 L244.06,229.81 L244.31,231.19 L244.56,232.49 L244.81,230.81 L245.07,233.60 L245.32,232.51 L245.57,231.33 L245.82,232.34 L246.07,232.23 L246.33,232.24 L246.58,232.35 L246.83,231.28 L247.08,233.53 L247.33,232.07 L247.59,232.40 L247.84,232.65 L248.09,231.84 L248.34,232.41 L248.60,233.43 L248.85,233.96 L249.10,232.60 L249.35,232.57 L249.60,232.28 L249.86,232.04 L250.11,229.25 L250.36,231.90 L250.61,231.31 L250.87,231.26 L251.12,229.60 L251.37,227.32 L251.62,227.88 L251.87,227.63 L252.13,226.32 L252.38,226.43 L252.63,224.76 L252.88,223.90 L253.13,224.61 L253.39,224.69 L253.64,221.92 L253.89,223.81 L254.14,223.45 L254.40,220.94 L254.65,221.67 L254.90,220.90 L255.17,223.22 L255.44,223.63 L255.71,222.75 L255.98,223.37 L256.25,224.70 L256.52,224.17 L256.78,224.04 L257.05,224.49 L257.32,226.76 L257.59,226.67 L257.86,227.22 L258.13,227.46 L258.40,229.00 L258.65,229.86 L258.90,229.10 L259.15,229.08 L259.40,229.39 L259.65,227.96 L259.90,229.31 L260.15,227.36 L260.40,227.98 L260.65,227.42 L260.90,227.72 L261.15,227.48 L261.40,225.45 L261.65,224.56 L261.90,225.60 L262.15,225.58 L262.40,226.28 L262.65,225.02 L262.90,223.74 L263.15,222.53 L263.40,220.81 L263.65,221.65 L263.90,221.49 L264.15,218.79 L264.40,217.63 L264.65,217.39 L264.90,216.89 L265.15,218.85 L265.40,219.11 L265.65,218.36 L265.90,217.40 L266.16,219.84 L266.43,219.02 L266.69,220.43 L266.95,220.51 L267.22,221.17 L267.48,223.14 L267.75,223.57 L268.01,225.29 L268.27,226.54 L268.54,228.80 L268.80,229.00 L269.06,230.41 L269.32,232.47 L269.58,231.98 L269.84,233.16 L270.11,233.68 L270.37,236.84 L270.63,237.12 L270.89,237.62 L271.15,240.33 L271.41,239.61 L271.67,240.79 L271.93,240.73 L272.19,242.05 L272.46,245.43 L272.72,244.44 L272.98,244.50 L273.24,246.02 L273.50,246.50 L273.76,247.79 L274.01,244.26 L274.27,246.54 L274.52,245.57 L274.78,247.84 L275.03,245.23 L275.29,247.33 L275.54,245.17 L275.80,243.69 L276.06,242.30 L276.31,244.23 L276.57,242.69 L276.82,241.36 L277.08,240.59 L277.33,242.45 L277.59,240.78 L277.84,241.22 L278.10,240.70 L278.36,240.47 L278.62,241.42 L278.88,239.47 L279.14,241.66 L279.41,239.36 L279.67,240.77 L279.93,240.84 L280.19,240.09 L280.45,238.81 L280.71,240.96 L280.97,239.50 L281.23,240.69 L281.49,239.30 L281.76,238.67 L282.02,239.65 L282.28,237.82 L282.54,236.89 L282.80,238.40 L283.06,240.78 L283.31,239.72 L283.57,240.94 L283.82,242.27 L284.08,243.03 L284.34,241.70 L284.59,245.45 L284.85,244.47 L285.11,245.56 L285.36,246.42 L285.62,246.77 L285.88,248.89 L286.13,247.90 L286.39,248.27 L286.64,251.32 L286.90,252.30 L287.16,250.67 L287.43,250.97 L287.69,250.23 L287.95,248.25 L288.22,246.59 L288.48,245.91 L288.75,244.16 L289.01,245.41 L289.27,245.93 L289.54,242.92 L289.80,243.00 L290.05,244.56 L290.30,244.48 L290.55,246.02 L290.80,247.24 L291.05,248.53 L291.30,246.76 L291.55,248.18 L291.80,250.70 L292.05,250.97 L292.30,249.62 L292.55,251.65 L292.80,252.79 L293.05,252.59 L293.30,254.16 L293.55,253.31 L293.80,255.80 L294.06,254.45 L294.31,254.83 L294.57,253.18 L294.82,251.12 L295.08,251.71 L295.34,250.31 L295.59,251.47 L295.85,248.25 L296.11,247.65 L296.36,246.82 L296.62,244.35 L296.88,244.70 L297.13,244.58 L297.39,241.99 L297.64,240.11 L297.90,239.50 L298.15,238.74 L298.40,238.22 L298.66,238.71 L298.91,236.92 L299.16,237.94 L299.41,239.49 L299.67,237.06 L299.92,237.96 L300.17,237.52 L300.42,236.84 L300.67,237.87 L300.93,235.30 L301.18,236.02 L301.43,233.55 L301.68,232.85 L301.93,234.76 L302.19,233.09 L302.44,231.22 L302.69,231.35 L302.94,231.07 L303.20,231.32 L303.45,229.27 L303.70,230.20 L303.95,231.42 L304.20,230.58 L304.45,230.80 L304.70,230.78 L304.95,230.31 L305.20,230.67 L305.45,229.52 L305.70,229.31 L305.95,229.03 L306.20,228.78 L306.45,227.70 L306.70,228.14 L306.95,228.03 L307.20,226.72 L307.45,225.58 L307.70,223.80 L307.95,224.06 L308.20,223.11 L308.45,223.21 L308.70,223.64 L308.95,222.60 L309.20,225.64 L309.45,223.65 L309.70,224.53 L309.95,224.03 L310.20,224.74 L310.45,222.12 L310.70,222.10 L310.96,223.03 L311.21,223.94 L311.47,223.36 L311.72,223.92 L311.98,224.86 L312.23,223.91 L312.49,224.02 L312.74,225.84 L313.00,225.60 L313.25,225.03 L313.50,222.55 L313.75,221.46 L314.00,220.42 L314.25,217.44 L314.50,216.73 L314.75,216.84 L315.00,215.31 L315.25,212.14 L315.50,209.11 L315.75,210.57 L316.00,208.43 L316.25,206.83 L316.50,204.70 L316.75,204.93 L317.01,206.65 L317.26,208.21 L317.52,207.56 L317.77,209.24 L318.02,208.37 L318.28,209.64 L318.53,211.91 L318.78,212.07 L319.04,213.56 L319.29,212.47 L319.55,213.79 L319.80,215.10 L320.10,216.74 L320.40,217.29 L320.70,218.30 L320.95,217.62 L321.21,217.09 L321.46,215.88 L321.72,214.19 L321.97,216.30 L322.23,215.19 L322.48,215.67 L322.73,213.41 L322.99,213.40 L323.24,211.95 L323.50,210.79 L323.75,212.07 L324.00,211.08 L324.26,208.49 L324.51,210.20 L324.77,209.19 L325.02,206.52 L325.27,207.24 L325.53,207.32 L325.78,205.33 L326.04,205.85 L326.29,203.12 L326.55,203.23 L326.80,202.40 L327.06,201.67 L327.33,199.17 L327.59,199.25 L327.85,198.81 L328.12,197.22 L328.38,195.44 L328.65,194.78 L328.91,196.31 L329.17,193.86 L329.44,192.92 L329.70,193.20 L329.96,193.57 L330.21,191.29 L330.47,191.74 L330.73,192.38 L330.99,190.99 L331.24,192.05 L331.50,188.97 L331.76,191.11 L332.01,189.88 L332.27,188.87 L332.53,189.27 L332.79,187.95 L333.04,189.00 L333.30,187.10 L333.55,186.03 L333.80,183.66 L334.05,184.63 L334.30,181.61 L334.55,180.72 L334.80,178.97 L335.05,177.32 L335.30,176.28 L335.55,174.76 L335.80,174.90 L336.07,174.91 L336.33,174.84 L336.60,176.61 L336.87,176.30 L337.13,176.84 L337.40,179.30 L337.67,178.60 L337.93,178.87 L338.20,179.80 L338.46,180.17 L338.72,177.51 L338.98,179.08 L339.23,176.12 L339.49,176.31 L339.75,174.35 L340.01,173.93 L340.27,175.57 L340.52,173.93 L340.78,172.62 L341.04,169.16 L341.30,170.00 L341.65,165.34 L342.00,162.30 L342.26,165.36 L342.52,169.91 L342.78,172.68 L343.04,175.13 L343.30,180.84 L343.56,183.84 L343.82,186.08 L344.08,188.25 L344.34,194.01 L344.60,196.00 L344.88,221.21 L345.15,243.82 L345.43,270.38 L345.70,293.80 L346.00,284.33 L346.30,274.18 L346.60,262.17 L346.90,252.20 L347.17,252.80 L347.43,251.66 L347.70,250.08 L347.97,250.89 L348.23,247.31 L348.50,247.62 L348.77,244.85 L349.03,245.36 L349.30,243.70 L349.56,244.04 L349.82,247.27 L350.07,248.22 L350.33,247.18 L350.59,248.24 L350.85,250.08 L351.11,250.83 L351.37,253.70 L351.62,253.49 L351.88,254.44 L352.14,257.95 L352.40,258.30 L352.66,254.99 L352.91,254.15 L353.17,251.71 L353.43,248.19 L353.69,247.13 L353.94,243.91 L354.20,240.00 L354.48,234.85 L354.76,232.09 L355.04,226.61 L355.32,221.32 L355.60,218.30 L355.87,222.47 L356.14,224.08 L356.41,225.09 L356.69,229.37 L356.96,232.93 L357.23,234.30 L357.50,236.70 L357.77,237.28 L358.03,236.12 L358.30,235.56 L358.57,235.07 L358.83,234.40 L359.10,236.35 L359.37,236.83 L359.63,234.60 L359.90,234.20 L360.17,234.49 L360.43,235.88 L360.70,239.96 L360.97,240.59 L361.23,241.46 L361.50,243.96 L361.77,245.66 L362.03,248.98 L362.30,248.90 L362.56,249.10 L362.83,247.68 L363.09,248.87 L363.35,246.99 L363.62,248.08 L363.88,248.97 L364.15,247.18 L364.41,246.37 L364.67,246.99 L364.94,246.21 L365.20,247.30 L365.46,250.09 L365.73,249.14 L365.99,250.76 L366.26,252.95 L366.52,253.83 L366.79,254.56 L367.05,254.90 L367.31,255.70 L367.58,258.33 L367.84,259.53 L368.11,262.29 L368.37,263.11 L368.64,264.65 L368.90,264.40 L369.16,264.42 L369.42,267.04 L369.67,269.83 L369.93,268.01 L370.19,269.29 L370.45,272.74 L370.71,273.64 L370.97,273.62 L371.23,276.45 L371.48,275.94 L371.74,277.44 L372.00,277.90 L372.26,274.65 L372.51,268.65 L372.77,263.12 L373.03,260.46 L373.29,253.96 L373.54,249.20 L373.80,246.10 L374.06,246.20 L374.33,246.91 L374.59,246.76 L374.86,245.16 L375.12,248.16 L375.39,248.22 L375.65,247.05 L375.91,249.88 L376.18,248.69 L376.44,248.22 L376.71,250.73 L376.97,249.92 L377.24,250.01 L377.50,249.80 L377.77,249.69 L378.03,250.04 L378.30,248.44 L378.57,248.63 L378.83,247.45 L379.10,244.42 L379.37,244.90 L379.63,242.53 L379.90,242.60 L380.17,242.03 L380.43,240.64 L380.70,239.10 L380.98,242.34 L381.25,242.88 L381.52,246.74 L381.80,247.60 L382.05,246.63 L382.31,244.57 L382.56,244.24 L382.81,241.51 L383.07,239.81 L383.32,240.10 L383.57,237.49 L383.83,236.64 L384.08,234.59 L384.33,233.69 L384.59,229.10 L384.84,228.38 L385.09,226.43 L385.35,225.91 L385.60,224.40 L385.88,223.13 L386.17,223.27 L386.45,221.07 L386.73,222.74 L387.02,220.77 L387.30,220.70 L387.56,220.00 L387.82,222.06 L388.07,218.84 L388.33,219.54 L388.59,221.34 L388.85,220.39 L389.11,221.37 L389.36,221.98 L389.62,221.24 L389.88,222.41 L390.14,222.70 L390.39,223.45 L390.65,223.72 L390.91,220.57 L391.17,222.46 L391.43,223.73 L391.68,224.10 L391.94,223.80 L392.20,223.10 L392.45,222.63 L392.71,221.93 L392.96,221.72 L393.22,225.00 L393.47,224.41 L393.73,223.92 L393.98,225.34 L394.23,224.69 L394.49,224.45 L394.74,225.27 L395.00,226.36 L395.25,226.25 L395.50,227.64 L395.76,227.21 L396.01,228.35 L396.27,226.83 L396.52,229.36 L396.77,228.91 L397.03,227.21 L397.28,229.12 L397.54,230.31 L397.79,232.00 L398.05,230.53 L398.30,231.70 L398.56,230.49 L398.83,230.84 L399.09,231.36 L399.36,230.20 L399.62,227.50 L399.89,228.83 L400.15,229.07 L400.41,227.95 L400.68,226.26 L400.94,228.11 L401.21,227.84 L401.47,226.56 L401.74,225.65 L402.00,226.80 L402.30,229.32 L402.60,228.75 L402.90,230.59 L403.20,231.70 L403.45,229.74 L403.70,227.46 L403.95,223.94 L404.20,223.00 L404.45,219.63 L404.70,220.56 L404.95,217.41 L405.20,216.82 L405.45,211.80 L405.70,210.90 L405.96,211.73 L406.22,210.46 L406.49,212.38 L406.75,213.36 L407.01,214.19 L407.27,213.65 L407.54,215.72 L407.80,216.79 L408.06,216.06 L408.32,215.75 L408.59,216.56 L408.85,218.32 L409.11,215.92 L409.38,215.99 L409.64,217.71 L409.90,218.20 L410.16,215.72 L410.42,216.26 L410.67,212.56 L410.93,211.85 L411.19,210.94 L411.45,212.28 L411.71,211.83 L411.97,208.51 L412.23,207.13 L412.48,208.40 L412.74,205.13 L413.00,204.80 L413.26,202.42 L413.51,202.50 L413.77,198.49 L414.03,198.19 L414.29,195.88 L414.54,195.06 L414.80,191.80 L415.06,193.94 L415.32,194.63 L415.57,194.30 L415.83,196.03 L416.09,194.74 L416.35,196.88 L416.61,195.93 L416.87,198.60 L417.12,199.45 L417.38,198.10 L417.64,200.52 L417.90,200.30 L418.16,201.17 L418.42,198.32 L418.67,196.26 L418.93,195.35 L419.19,197.48 L419.45,193.87 L419.71,195.49 L419.96,192.05 L420.22,192.33 L420.48,188.93 L420.74,188.40 L420.99,189.26 L421.25,186.36 L421.51,186.51 L421.77,187.04 L422.03,185.69 L422.28,184.39 L422.54,184.14 L422.80,182.60 L423.07,185.83 L423.33,185.32 L423.60,188.62 L423.87,187.12 L424.13,190.18 L424.40,190.69 L424.67,193.06 L424.93,194.23 L425.20,196.70 L425.46,193.80 L425.72,192.63 L425.98,191.04 L426.24,190.48 L426.50,186.90 L426.77,191.33 L427.03,195.88 L427.30,201.82 L427.57,205.64 L427.83,209.13 L428.10,215.40 L428.37,220.04 L428.63,224.62 L428.90,229.20 L429.20,223.16 L429.50,214.80 L429.80,207.59 L430.10,202.30 L430.35,203.26 L430.61,202.05 L430.86,203.05 L431.11,200.16 L431.36,202.42 L431.62,201.13 L431.87,202.26 L432.12,202.04 L432.38,201.37 L432.63,202.57 L432.88,199.04 L433.14,201.29 L433.39,202.26 L433.64,201.02 L433.89,201.53 L434.15,202.84 L434.40,201.60 L434.66,201.80 L434.92,204.57 L435.17,204.48 L435.43,206.94 L435.69,206.50 L435.95,207.78 L436.21,207.54 L436.47,208.27 L436.73,208.30 L436.98,208.68 L437.24,211.62 L437.50,210.90 L437.75,210.68 L438.01,212.66 L438.26,211.75 L438.51,212.15 L438.76,211.82 L439.02,213.76 L439.27,216.53 L439.52,215.92 L439.77,215.40 L440.03,215.58 L440.28,217.99 L440.53,218.06 L440.78,217.40 L441.04,219.86 L441.29,220.07 L441.54,220.56 L441.79,220.64 L442.05,221.97 L442.30,223.10 L442.65,226.18 L443.00,231.70 L443.25,231.59 L443.50,232.28 L443.75,233.11 L444.00,231.79 L444.25,231.78 L444.50,232.08 L444.75,232.56 L445.00,230.00 L445.25,232.43 L445.50,231.55 L445.75,230.15 L446.00,230.24 L446.25,228.35 L446.50,227.50 L446.75,229.80 L447.00,228.63 L447.25,228.25 L447.50,227.86 L447.75,228.97 L448.00,227.92 L448.25,225.67 L448.50,226.80 L448.77,224.30 L449.03,221.83 L449.30,220.38 L449.57,216.97 L449.83,215.28 L450.10,211.71 L450.37,208.78 L450.63,208.96 L450.90,206.00 L451.17,207.41 L451.43,207.58 L451.70,211.43 L451.97,213.25 L452.23,214.54 L452.50,215.38 L452.77,219.33 L453.03,220.27 L453.30,223.10 L453.56,222.12 L453.82,221.64 L454.07,219.86 L454.33,219.61 L454.59,216.19 L454.85,215.48 L455.11,214.56 L455.36,215.18 L455.62,213.90 L455.88,213.74 L456.14,213.00 L456.39,212.47 L456.65,211.41 L456.91,211.90 L457.17,210.20 L457.43,211.07 L457.68,209.00 L457.94,206.57 L458.20,207.20 L458.45,205.33 L458.70,203.51 L458.95,202.54 L459.20,199.46 L459.45,198.67 L459.70,194.61 L459.95,193.92 L460.20,192.25 L460.45,188.36 L460.70,187.00 L460.95,187.61 L461.20,184.89 L461.45,186.45 L461.70,183.64 L461.95,183.32 L462.20,182.52 L462.45,184.23 L462.70,183.71 L462.95,181.28 L463.20,180.90 L463.45,179.09 L463.70,179.60" fill="none" stroke="#2a6fb0" stroke-width="1.1" stroke-linejoin="round"/>
<rect x="116.3" y="32.5" width="1.5" height="294" fill="#f2bd86"/>
<line x1="31" y1="369.5" x2="464" y2="369.5" stroke="#eeeeee" stroke-width="1"/>
<line x1="31" y1="384.5" x2="464" y2="384.5" stroke="#f2f2f2" stroke-width="1"/>
<line x1="41.6" y1="369.5" x2="41.6" y2="420.9" stroke="#f0f0f0" stroke-width="1"/>
<line x1="83.8" y1="369.5" x2="83.8" y2="420.9" stroke="#f0f0f0" stroke-width="1"/>
<line x1="126.0" y1="369.5" x2="126.0" y2="420.9" stroke="#f0f0f0" stroke-width="1"/>
<line x1="168.2" y1="369.5" x2="168.2" y2="420.9" stroke="#f0f0f0" stroke-width="1"/>
<line x1="210.4" y1="369.5" x2="210.4" y2="420.9" stroke="#f0f0f0" stroke-width="1"/>
<line x1="252.6" y1="369.5" x2="252.6" y2="420.9" stroke="#f0f0f0" stroke-width="1"/>
<line x1="294.8" y1="369.5" x2="294.8" y2="420.9" stroke="#f0f0f0" stroke-width="1"/>
<line x1="337.0" y1="369.5" x2="337.0" y2="420.9" stroke="#f0f0f0" stroke-width="1"/>
<line x1="379.2" y1="369.5" x2="379.2" y2="420.9" stroke="#f0f0f0" stroke-width="1"/>
<line x1="421.4" y1="369.5" x2="421.4" y2="420.9" stroke="#f0f0f0" stroke-width="1"/>
<rect x="31" y="402.6" width="1" height="18.3" fill="#35c935"/>
<rect x="32" y="399.1" width="1" height="21.8" fill="#35c935"/>
<rect x="33" y="403.8" width="1" height="17.1" fill="#35c935"/>
<rect x="34" y="400.6" width="1" height="20.3" fill="#e25a4a"/>
<rect x="35" y="403.6" width="1" height="17.3" fill="#35c935"/>
<rect x="36" y="399.0" width="1" height="21.9" fill="#35c935"/>
<rect x="37" y="403.6" width="1" height="17.3" fill="#8f9a3c"/>
<rect x="38" y="394.3" width="1" height="26.6" fill="#35c935"/>
<rect x="39" y="386.9" width="1" height="34.0" fill="#e25a4a"/>
<rect x="40" y="402.7" width="1" height="18.2" fill="#8f9a3c"/>
<rect x="41" y="405.1" width="1" height="15.8" fill="#8f9a3c"/>
<rect x="42" y="386.9" width="1" height="34.0" fill="#35c935"/>
<rect x="43" y="389.7" width="1" height="31.2" fill="#8f9a3c"/>
<rect x="44" y="399.6" width="1" height="21.3" fill="#35c935"/>
<rect x="45" y="390.8" width="1" height="30.1" fill="#e25a4a"/>
<rect x="46" y="404.2" width="1" height="16.7" fill="#35c935"/>
<rect x="47" y="403.4" width="1" height="17.5" fill="#4fbf35"/>
<rect x="48" y="393.7" width="1" height="27.2" fill="#8f9a3c"/>
<rect x="49" y="394.7" width="1" height="26.2" fill="#35c935"/>
<rect x="50" y="402.0" width="1" height="18.9" fill="#e25a4a"/>
<rect x="51" y="402.4" width="1" height="18.5" fill="#8f9a3c"/>
<rect x="52" y="404.0" width="1" height="16.9" fill="#e25a4a"/>
<rect x="53" y="391.5" width="1" height="29.4" fill="#b8783e"/>
<rect x="54" y="401.7" width="1" height="19.2" fill="#d9664c"/>
<rect x="55" y="386.9" width="1" height="34.0" fill="#e25a4a"/>
<rect x="56" y="401.1" width="1" height="19.8" fill="#8f9a3c"/>
<rect x="57" y="403.3" width="1" height="17.6" fill="#8f9a3c"/>
<rect x="58" y="389.1" width="1" height="31.8" fill="#e25a4a"/>
<rect x="59" y="402.0" width="1" height="18.9" fill="#4fbf35"/>
<rect x="60" y="403.9" width="1" height="17.0" fill="#e25a4a"/>
<rect x="61" y="391.6" width="1" height="29.3" fill="#d9664c"/>
<rect x="62" y="403.6" width="1" height="17.3" fill="#8f9a3c"/>
<rect x="63" y="387.2" width="1" height="33.7" fill="#35c935"/>
<rect x="64" y="386.9" width="1" height="34.0" fill="#35c935"/>
<rect x="65" y="399.3" width="1" height="21.6" fill="#b8783e"/>
<rect x="66" y="387.5" width="1" height="33.4" fill="#4fbf35"/>
<rect x="67" y="398.1" width="1" height="22.8" fill="#e25a4a"/>
<rect x="68" y="401.5" width="1" height="19.4" fill="#35c935"/>
<rect x="69" y="403.6" width="1" height="17.3" fill="#35c935"/>
<rect x="70" y="393.5" width="1" height="27.4" fill="#35c935"/>
<rect x="71" y="402.5" width="1" height="18.4" fill="#4fbf35"/>
<rect x="72" y="400.7" width="1" height="20.2" fill="#d9664c"/>
<rect x="73" y="389.9" width="1" height="31.0" fill="#8f9a3c"/>
<rect x="74" y="400.9" width="1" height="20.0" fill="#35c935"/>
<rect x="75" y="404.2" width="1" height="16.7" fill="#8f9a3c"/>
<rect x="76" y="393.1" width="1" height="27.8" fill="#e25a4a"/>
<rect x="77" y="405.6" width="1" height="15.3" fill="#35c935"/>
<rect x="78" y="403.7" width="1" height="17.2" fill="#e25a4a"/>
<rect x="79" y="396.4" width="1" height="24.5" fill="#4fbf35"/>
<rect x="80" y="403.5" width="1" height="17.4" fill="#4fbf35"/>
<rect x="81" y="393.7" width="1" height="27.2" fill="#d9664c"/>
<rect x="82" y="403.3" width="1" height="17.6" fill="#e25a4a"/>
<rect x="83" y="404.3" width="1" height="16.6" fill="#35c935"/>
<rect x="84" y="402.0" width="1" height="18.9" fill="#8f9a3c"/>
<rect x="85" y="401.5" width="1" height="19.4" fill="#35c935"/>
<rect x="86" y="404.1" width="1" height="16.8" fill="#35c935"/>
<rect x="87" y="395.2" width="1" height="25.7" fill="#4fbf35"/>
<rect x="88" y="395.3" width="1" height="25.6" fill="#e25a4a"/>
<rect x="89" y="399.5" width="1" height="21.4" fill="#8f9a3c"/>
<rect x="90" y="401.7" width="1" height="19.2" fill="#8f9a3c"/>
<rect x="91" y="386.9" width="1" height="34.0" fill="#35c935"/>
<rect x="92" y="404.9" width="1" height="16.0" fill="#8f9a3c"/>
<rect x="93" y="404.3" width="1" height="16.6" fill="#8f9a3c"/>
<rect x="94" y="403.4" width="1" height="17.5" fill="#8f9a3c"/>
<rect x="95" y="387.5" width="1" height="33.4" fill="#8f9a3c"/>
<rect x="96" y="386.9" width="1" height="34.0" fill="#8f9a3c"/>
<rect x="97" y="402.9" width="1" height="18.0" fill="#4fbf35"/>
<rect x="98" y="400.3" width="1" height="20.6" fill="#8f9a3c"/>
<rect x="99" y="386.9" width="1" height="34.0" fill="#8f9a3c"/>
<rect x="100" y="405.9" width="1" height="15.0" fill="#35c935"/>
<rect x="101" y="400.2" width="1" height="20.7" fill="#b8783e"/>
<rect x="102" y="387.4" width="1" height="33.5" fill="#35c935"/>
<rect x="103" y="398.2" width="1" height="22.7" fill="#8f9a3c"/>
<rect x="104" y="405.5" width="1" height="15.4" fill="#35c935"/>
<rect x="105" y="391.9" width="1" height="29.0" fill="#b8783e"/>
<rect x="106" y="390.2" width="1" height="30.7" fill="#4fbf35"/>
<rect x="107" y="397.3" width="1" height="23.6" fill="#35c935"/>
<rect x="108" y="405.6" width="1" height="15.3" fill="#b8783e"/>
<rect x="109" y="398.2" width="1" height="22.7" fill="#35c935"/>
<rect x="110" y="395.3" width="1" height="25.6" fill="#4fbf35"/>
<rect x="111" y="404.7" width="1" height="16.2" fill="#4fbf35"/>
<rect x="112" y="405.7" width="1" height="15.2" fill="#b8783e"/>
<rect x="113" y="391.9" width="1" height="29.0" fill="#e25a4a"/>
<rect x="114" y="403.1" width="1" height="17.8" fill="#e25a4a"/>
<rect x="115" y="396.0" width="1" height="24.9" fill="#8f9a3c"/>
<rect x="116" y="405.1" width="1" height="15.8" fill="#8f9a3c"/>
<rect x="117" y="401.1" width="1" height="19.8" fill="#b8783e"/>
<rect x="118" y="391.1" width="1" height="29.8" fill="#b8783e"/>
<rect x="119" y="400.5" width="1" height="20.4" fill="#4fbf35"/>
<rect x="120" y="390.2" width="1" height="30.7" fill="#8f9a3c"/>
<rect x="121" y="404.7" width="1" height="16.2" fill="#e25a4a"/>
<rect x="122" y="404.4" width="1" height="16.5" fill="#b8783e"/>
<rect x="123" y="405.3" width="1" height="15.6" fill="#b8783e"/>
<rect x="124" y="401.9" width="1" height="19.0" fill="#8f9a3c"/>
<rect x="125" y="406.3" width="1" height="14.6" fill="#8f9a3c"/>
<rect x="126" y="403.7" width="1" height="17.2" fill="#4fbf35"/>
<rect x="127" y="393.2" width="1" height="27.7" fill="#35c935"/>
<rect x="128" y="405.8" width="1" height="15.1" fill="#8f9a3c"/>
<rect x="129" y="404.1" width="1" height="16.8" fill="#4fbf35"/>
<rect x="130" y="387.7" width="1" height="33.2" fill="#35c935"/>
<rect x="131" y="402.2" width="1" height="18.7" fill="#b8783e"/>
<rect x="132" y="402.4" width="1" height="18.5" fill="#35c935"/>
<rect x="133" y="394.4" width="1" height="26.5" fill="#4fbf35"/>
<rect x="134" y="404.5" width="1" height="16.4" fill="#e25a4a"/>
<rect x="135" y="389.6" width="1" height="31.3" fill="#d9664c"/>
<rect x="136" y="401.0" width="1" height="19.9" fill="#8f9a3c"/>
<rect x="137" y="400.0" width="1" height="20.9" fill="#e25a4a"/>
<rect x="138" y="402.5" width="1" height="18.4" fill="#d9664c"/>
<rect x="139" y="401.2" width="1" height="19.7" fill="#4fbf35"/>
<rect x="140" y="396.9" width="1" height="24.0" fill="#e25a4a"/>
<rect x="141" y="403.2" width="1" height="17.7" fill="#4fbf35"/>
<rect x="142" y="404.2" width="1" height="16.7" fill="#e25a4a"/>
<rect x="143" y="396.5" width="1" height="24.4" fill="#b8783e"/>
<rect x="144" y="402.7" width="1" height="18.2" fill="#b8783e"/>
<rect x="145" y="401.5" width="1" height="19.4" fill="#35c935"/>
<rect x="146" y="394.8" width="1" height="26.1" fill="#b8783e"/>
<rect x="147" y="404.2" width="1" height="16.7" fill="#b8783e"/>
<rect x="148" y="402.0" width="1" height="18.9" fill="#4fbf35"/>
<rect x="149" y="403.2" width="1" height="17.7" fill="#b8783e"/>
<rect x="150" y="400.2" width="1" height="20.7" fill="#35c935"/>
<rect x="151" y="394.3" width="1" height="26.6" fill="#35c935"/>
<rect x="152" y="404.8" width="1" height="16.1" fill="#d9664c"/>
<rect x="153" y="403.2" width="1" height="17.7" fill="#8f9a3c"/>
<rect x="154" y="398.1" width="1" height="22.8" fill="#b8783e"/>
<rect x="155" y="404.7" width="1" height="16.2" fill="#8f9a3c"/>
<rect x="156" y="388.0" width="1" height="32.9" fill="#35c935"/>
<rect x="157" y="398.0" width="1" height="22.9" fill="#35c935"/>
<rect x="158" y="388.7" width="1" height="32.2" fill="#d9664c"/>
<rect x="159" y="406.3" width="1" height="14.6" fill="#35c935"/>
<rect x="160" y="393.7" width="1" height="27.2" fill="#35c935"/>
<rect x="161" y="396.0" width="1" height="24.9" fill="#4fbf35"/>
<rect x="162" y="406.6" width="1" height="14.3" fill="#4fbf35"/>
<rect x="163" y="397.1" width="1" height="23.8" fill="#35c935"/>
<rect x="164" y="397.7" width="1" height="23.2" fill="#35c935"/>
<rect x="165" y="403.4" width="1" height="17.5" fill="#8f9a3c"/>
<rect x="166" y="404.8" width="1" height="16.1" fill="#d9664c"/>
<rect x="167" y="398.9" width="1" height="22.0" fill="#35c935"/>
<rect x="168" y="400.1" width="1" height="20.8" fill="#8f9a3c"/>
<rect x="169" y="398.0" width="1" height="22.9" fill="#8f9a3c"/>
<rect x="170" y="404.4" width="1" height="16.5" fill="#35c935"/>
<rect x="171" y="400.0" width="1" height="20.9" fill="#b8783e"/>
<rect x="172" y="403.5" width="1" height="17.4" fill="#8f9a3c"/>
<rect x="173" y="398.0" width="1" height="22.9" fill="#8f9a3c"/>
<rect x="174" y="401.2" width="1" height="19.7" fill="#4fbf35"/>
<rect x="175" y="401.0" width="1" height="19.9" fill="#d9664c"/>
<rect x="176" y="399.0" width="1" height="21.9" fill="#35c935"/>
<rect x="177" y="398.4" width="1" height="22.5" fill="#8f9a3c"/>
<rect x="178" y="401.0" width="1" height="19.9" fill="#b8783e"/>
<rect x="179" y="401.3" width="1" height="19.6" fill="#8f9a3c"/>
<rect x="180" y="396.2" width="1" height="24.7" fill="#35c935"/>
<rect x="181" y="386.9" width="1" height="34.0" fill="#8f9a3c"/>
<rect x="182" y="400.9" width="1" height="20.0" fill="#e25a4a"/>
<rect x="183" y="400.3" width="1" height="20.6" fill="#8f9a3c"/>
<rect x="184" y="397.9" width="1" height="23.0" fill="#8f9a3c"/>
<rect x="185" y="406.8" width="1" height="14.1" fill="#d9664c"/>
<rect x="186" y="399.9" width="1" height="21.0" fill="#d9664c"/>
<rect x="187" y="407.7" width="1" height="13.2" fill="#d9664c"/>
<rect x="188" y="396.9" width="1" height="24.0" fill="#35c935"/>
<rect x="189" y="386.9" width="1" height="34.0" fill="#e25a4a"/>
<rect x="190" y="398.6" width="1" height="22.3" fill="#4fbf35"/>
<rect x="191" y="394.4" width="1" height="26.5" fill="#b8783e"/>
<rect x="192" y="404.5" width="1" height="16.4" fill="#35c935"/>
<rect x="193" y="404.6" width="1" height="16.3" fill="#35c935"/>
<rect x="194" y="404.7" width="1" height="16.2" fill="#35c935"/>
<rect x="195" y="401.1" width="1" height="19.8" fill="#4fbf35"/>
<rect x="196" y="403.8" width="1" height="17.1" fill="#d9664c"/>
<rect x="197" y="403.6" width="1" height="17.3" fill="#4fbf35"/>
<rect x="198" y="402.5" width="1" height="18.4" fill="#35c935"/>
<rect x="199" y="396.0" width="1" height="24.9" fill="#8f9a3c"/>
<rect x="200" y="402.7" width="1" height="18.2" fill="#8f9a3c"/>
<rect x="201" y="402.9" width="1" height="18.0" fill="#35c935"/>
<rect x="202" y="403.8" width="1" height="17.1" fill="#8f9a3c"/>
<rect x="203" y="406.6" width="1" height="14.3" fill="#35c935"/>
<rect x="204" y="386.9" width="1" height="34.0" fill="#8f9a3c"/>
<rect x="205" y="407.7" width="1" height="13.2" fill="#d9664c"/>
<rect x="206" y="386.9" width="1" height="34.0" fill="#d9664c"/>
<rect x="207" y="405.0" width="1" height="15.9" fill="#35c935"/>
<rect x="208" y="398.6" width="1" height="22.3" fill="#d9664c"/>
<rect x="209" y="400.1" width="1" height="20.8" fill="#d9664c"/>
<rect x="210" y="405.1" width="1" height="15.8" fill="#35c935"/>
<rect x="211" y="401.7" width="1" height="19.2" fill="#e25a4a"/>
<rect x="212" y="392.4" width="1" height="28.5" fill="#d9664c"/>
<rect x="213" y="405.5" width="1" height="15.4" fill="#8f9a3c"/>
<rect x="214" y="404.9" width="1" height="16.0" fill="#35c935"/>
<rect x="215" y="399.0" width="1" height="21.9" fill="#8f9a3c"/>
<rect x="216" y="402.4" width="1" height="18.5" fill="#35c935"/>
<rect x="217" y="405.4" width="1" height="15.5" fill="#35c935"/>
<rect x="218" y="401.4" width="1" height="19.5" fill="#e25a4a"/>
<rect x="219" y="402.2" width="1" height="18.7" fill="#d9664c"/>
<rect x="220" y="402.6" width="1" height="18.3" fill="#e25a4a"/>
<rect x="221" y="406.0" width="1" height="14.9" fill="#b8783e"/>
<rect x="222" y="404.9" width="1" height="16.0" fill="#8f9a3c"/>
<rect x="223" y="404.9" width="1" height="16.0" fill="#d9664c"/>
<rect x="224" y="398.1" width="1" height="22.8" fill="#d9664c"/>
<rect x="225" y="404.1" width="1" height="16.8" fill="#8f9a3c"/>
<rect x="226" y="397.4" width="1" height="23.5" fill="#4fbf35"/>
<rect x="227" y="387.4" width="1" height="33.5" fill="#b8783e"/>
<rect x="228" y="405.1" width="1" height="15.8" fill="#35c935"/>
<rect x="229" y="404.2" width="1" height="16.7" fill="#35c935"/>
<rect x="230" y="397.9" width="1" height="23.0" fill="#e25a4a"/>
<rect x="231" y="406.3" width="1" height="14.6" fill="#35c935"/>
<rect x="232" y="406.7" width="1" height="14.2" fill="#8f9a3c"/>
<rect x="233" y="402.9" width="1" height="18.0" fill="#e25a4a"/>
<rect x="234" y="404.3" width="1" height="16.6" fill="#d9664c"/>
<rect x="235" y="406.0" width="1" height="14.9" fill="#8f9a3c"/>
<rect x="236" y="386.9" width="1" height="34.0" fill="#b8783e"/>
<rect x="237" y="393.8" width="1" height="27.1" fill="#8f9a3c"/>
<rect x="238" y="386.9" width="1" height="34.0" fill="#8f9a3c"/>
<rect x="239" y="405.3" width="1" height="15.6" fill="#35c935"/>
<rect x="240" y="390.6" width="1" height="30.3" fill="#4fbf35"/>
<rect x="241" y="406.0" width="1" height="14.9" fill="#d9664c"/>
<rect x="242" y="392.1" width="1" height="28.8" fill="#8f9a3c"/>
<rect x="243" y="404.6" width="1" height="16.3" fill="#8f9a3c"/>
<rect x="244" y="403.0" width="1" height="17.9" fill="#8f9a3c"/>
<rect x="245" y="386.9" width="1" height="34.0" fill="#35c935"/>
<rect x="246" y="406.5" width="1" height="14.4" fill="#8f9a3c"/>
<rect x="247" y="389.7" width="1" height="31.2" fill="#8f9a3c"/>
<rect x="248" y="406.9" width="1" height="14.0" fill="#35c935"/>
<rect x="249" y="397.8" width="1" height="23.1" fill="#4fbf35"/>
<rect x="250" y="402.6" width="1" height="18.3" fill="#4fbf35"/>
<rect x="251" y="401.9" width="1" height="19.0" fill="#35c935"/>
<rect x="252" y="403.9" width="1" height="17.0" fill="#35c935"/>
<rect x="253" y="404.5" width="1" height="16.4" fill="#35c935"/>
<rect x="254" y="396.5" width="1" height="24.4" fill="#b8783e"/>
<rect x="255" y="403.6" width="1" height="17.3" fill="#e25a4a"/>
<rect x="256" y="403.6" width="1" height="17.3" fill="#35c935"/>
<rect x="257" y="403.9" width="1" height="17.0" fill="#8f9a3c"/>
<rect x="258" y="398.1" width="1" height="22.8" fill="#35c935"/>
<rect x="259" y="395.6" width="1" height="25.3" fill="#b8783e"/>
<rect x="260" y="388.0" width="1" height="32.9" fill="#8f9a3c"/>
<rect x="261" y="393.6" width="1" height="27.3" fill="#8f9a3c"/>
<rect x="262" y="399.8" width="1" height="21.1" fill="#8f9a3c"/>
<rect x="263" y="403.9" width="1" height="17.0" fill="#e25a4a"/>
<rect x="264" y="402.5" width="1" height="18.4" fill="#35c935"/>
<rect x="265" y="400.0" width="1" height="20.9" fill="#35c935"/>
<rect x="266" y="405.8" width="1" height="15.1" fill="#8f9a3c"/>
<rect x="267" y="405.0" width="1" height="15.9" fill="#b8783e"/>
<rect x="268" y="403.7" width="1" height="17.2" fill="#e25a4a"/>
<rect x="269" y="407.0" width="1" height="13.9" fill="#35c935"/>
<rect x="270" y="398.9" width="1" height="22.0" fill="#8f9a3c"/>
<rect x="271" y="403.7" width="1" height="17.2" fill="#8f9a3c"/>
<rect x="272" y="405.9" width="1" height="15.0" fill="#e25a4a"/>
<rect x="273" y="405.3" width="1" height="15.6" fill="#35c935"/>
<rect x="274" y="393.2" width="1" height="27.7" fill="#35c935"/>
<rect x="275" y="389.8" width="1" height="31.1" fill="#4fbf35"/>
<rect x="276" y="388.1" width="1" height="32.8" fill="#4fbf35"/>
<rect x="277" y="405.9" width="1" height="15.0" fill="#4fbf35"/>
<rect x="278" y="389.8" width="1" height="31.1" fill="#35c935"/>
<rect x="279" y="387.3" width="1" height="33.6" fill="#35c935"/>
<rect x="280" y="404.3" width="1" height="16.6" fill="#35c935"/>
<rect x="281" y="402.7" width="1" height="18.2" fill="#35c935"/>
<rect x="282" y="394.1" width="1" height="26.8" fill="#35c935"/>
<rect x="283" y="398.3" width="1" height="22.6" fill="#35c935"/>
<rect x="284" y="403.8" width="1" height="17.1" fill="#35c935"/>
<rect x="285" y="402.1" width="1" height="18.8" fill="#35c935"/>
<rect x="286" y="408.5" width="1" height="12.4" fill="#b8783e"/>
<rect x="287" y="403.3" width="1" height="17.6" fill="#35c935"/>
<rect x="288" y="401.2" width="1" height="19.7" fill="#e25a4a"/>
<rect x="289" y="404.3" width="1" height="16.6" fill="#e25a4a"/>
<rect x="290" y="392.4" width="1" height="28.5" fill="#e25a4a"/>
<rect x="291" y="406.1" width="1" height="14.8" fill="#8f9a3c"/>
<rect x="292" y="401.2" width="1" height="19.7" fill="#35c935"/>
<rect x="293" y="407.8" width="1" height="13.1" fill="#d9664c"/>
<rect x="294" y="407.8" width="1" height="13.1" fill="#35c935"/>
<rect x="295" y="402.4" width="1" height="18.5" fill="#e25a4a"/>
<rect x="296" y="404.7" width="1" height="16.2" fill="#b8783e"/>
<rect x="297" y="402.7" width="1" height="18.2" fill="#35c935"/>
<rect x="298" y="392.2" width="1" height="28.7" fill="#8f9a3c"/>
<rect x="299" y="406.2" width="1" height="14.7" fill="#35c935"/>
<rect x="300" y="404.6" width="1" height="16.3" fill="#35c935"/>
<rect x="301" y="399.3" width="1" height="21.6" fill="#e25a4a"/>
<rect x="302" y="407.8" width="1" height="13.1" fill="#8f9a3c"/>
<rect x="303" y="400.8" width="1" height="20.1" fill="#8f9a3c"/>
<rect x="304" y="407.2" width="1" height="13.7" fill="#b8783e"/>
<rect x="305" y="386.9" width="1" height="34.0" fill="#b8783e"/>
<rect x="306" y="403.5" width="1" height="17.4" fill="#8f9a3c"/>
<rect x="307" y="393.8" width="1" height="27.1" fill="#35c935"/>
<rect x="308" y="405.4" width="1" height="15.5" fill="#35c935"/>
<rect x="309" y="401.9" width="1" height="19.0" fill="#d9664c"/>
<rect x="310" y="405.1" width="1" height="15.8" fill="#e25a4a"/>
<rect x="311" y="405.5" width="1" height="15.4" fill="#d9664c"/>
<rect x="312" y="403.2" width="1" height="17.7" fill="#4fbf35"/>
<rect x="313" y="407.7" width="1" height="13.2" fill="#4fbf35"/>
<rect x="314" y="400.5" width="1" height="20.4" fill="#8f9a3c"/>
<rect x="315" y="392.5" width="1" height="28.4" fill="#4fbf35"/>
<rect x="316" y="404.2" width="1" height="16.7" fill="#8f9a3c"/>
<rect x="317" y="390.8" width="1" height="30.1" fill="#8f9a3c"/>
<rect x="318" y="401.8" width="1" height="19.1" fill="#b8783e"/>
<rect x="319" y="386.9" width="1" height="34.0" fill="#d9664c"/>
<rect x="320" y="397.9" width="1" height="23.0" fill="#35c935"/>
<rect x="321" y="404.1" width="1" height="16.8" fill="#35c935"/>
<rect x="322" y="404.5" width="1" height="16.4" fill="#8f9a3c"/>
<rect x="323" y="406.4" width="1" height="14.5" fill="#e25a4a"/>
<rect x="324" y="402.4" width="1" height="18.5" fill="#8f9a3c"/>
<rect x="325" y="397.4" width="1" height="23.5" fill="#8f9a3c"/>
<rect x="326" y="404.9" width="1" height="16.0" fill="#35c935"/>
<rect x="327" y="402.6" width="1" height="18.3" fill="#d9664c"/>
<rect x="328" y="399.8" width="1" height="21.1" fill="#8f9a3c"/>
<rect x="329" y="394.8" width="1" height="26.1" fill="#8f9a3c"/>
<rect x="330" y="399.2" width="1" height="21.7" fill="#8f9a3c"/>
<rect x="331" y="390.7" width="1" height="30.2" fill="#35c935"/>
<rect x="332" y="402.9" width="1" height="18.0" fill="#35c935"/>
<rect x="333" y="405.6" width="1" height="15.3" fill="#35c935"/>
<rect x="334" y="406.3" width="1" height="14.6" fill="#4fbf35"/>
<rect x="335" y="403.2" width="1" height="17.7" fill="#8f9a3c"/>
<rect x="336" y="386.9" width="1" height="34.0" fill="#35c935"/>
<rect x="337" y="405.6" width="1" height="15.3" fill="#35c935"/>
<rect x="338" y="405.3" width="1" height="15.6" fill="#b8783e"/>
<rect x="339" y="404.0" width="1" height="16.9" fill="#8f9a3c"/>
<rect x="340" y="395.3" width="1" height="25.6" fill="#8f9a3c"/>
<rect x="341" y="392.9" width="1" height="28.0" fill="#35c935"/>
<rect x="342" y="404.6" width="1" height="16.3" fill="#35c935"/>
<rect x="343" y="401.4" width="1" height="19.5" fill="#35c935"/>
<rect x="344" y="402.9" width="1" height="18.0" fill="#8f9a3c"/>
<rect x="345" y="394.1" width="1" height="26.8" fill="#e25a4a"/>
<rect x="346" y="408.3" width="1" height="12.6" fill="#e25a4a"/>
<rect x="347" y="408.2" width="1" height="12.7" fill="#d9664c"/>
<rect x="348" y="407.4" width="1" height="13.5" fill="#35c935"/>
<rect x="349" y="406.5" width="1" height="14.4" fill="#e25a4a"/>
<rect x="350" y="406.4" width="1" height="14.5" fill="#35c935"/>
<rect x="351" y="406.4" width="1" height="14.5" fill="#35c935"/>
<rect x="352" y="393.7" width="1" height="27.2" fill="#4fbf35"/>
<rect x="353" y="400.6" width="1" height="20.3" fill="#4fbf35"/>
<rect x="354" y="403.9" width="1" height="17.0" fill="#d9664c"/>
<rect x="355" y="402.0" width="1" height="18.9" fill="#d9664c"/>
<rect x="356" y="404.9" width="1" height="16.0" fill="#b8783e"/>
<rect x="357" y="396.6" width="1" height="24.3" fill="#8f9a3c"/>
<rect x="358" y="408.4" width="1" height="12.5" fill="#8f9a3c"/>
<rect x="359" y="400.6" width="1" height="20.3" fill="#8f9a3c"/>
<rect x="360" y="399.2" width="1" height="21.7" fill="#e25a4a"/>
<rect x="361" y="395.2" width="1" height="25.7" fill="#d9664c"/>
<rect x="362" y="398.0" width="1" height="22.9" fill="#b8783e"/>
<rect x="363" y="405.8" width="1" height="15.1" fill="#8f9a3c"/>
<rect x="364" y="405.9" width="1" height="15.0" fill="#35c935"/>
<rect x="365" y="392.2" width="1" height="28.7" fill="#d9664c"/>
<rect x="366" y="390.2" width="1" height="30.7" fill="#d9664c"/>
<rect x="367" y="409.4" width="1" height="11.5" fill="#35c935"/>
<rect x="368" y="406.9" width="1" height="14.0" fill="#e25a4a"/>
<rect x="369" y="403.2" width="1" height="17.7" fill="#d9664c"/>
<rect x="370" y="409.9" width="1" height="11.0" fill="#d9664c"/>
<rect x="371" y="406.7" width="1" height="14.2" fill="#35c935"/>
<rect x="372" y="400.0" width="1" height="20.9" fill="#b8783e"/>
<rect x="373" y="405.8" width="1" height="15.1" fill="#e25a4a"/>
<rect x="374" y="404.4" width="1" height="16.5" fill="#e25a4a"/>
<rect x="375" y="406.0" width="1" height="14.9" fill="#8f9a3c"/>
<rect x="376" y="394.3" width="1" height="26.6" fill="#8f9a3c"/>
<rect x="377" y="408.5" width="1" height="12.4" fill="#8f9a3c"/>
<rect x="378" y="407.1" width="1" height="13.8" fill="#8f9a3c"/>
<rect x="379" y="401.0" width="1" height="19.9" fill="#d9664c"/>
<rect x="380" y="403.9" width="1" height="17.0" fill="#35c935"/>
<rect x="381" y="408.7" width="1" height="12.2" fill="#4fbf35"/>
<rect x="382" y="401.0" width="1" height="19.9" fill="#8f9a3c"/>
<rect x="383" y="409.2" width="1" height="11.7" fill="#4fbf35"/>
<rect x="384" y="410.7" width="1" height="10.2" fill="#35c935"/>
<rect x="385" y="410.5" width="1" height="10.4" fill="#b8783e"/>
<rect x="386" y="405.0" width="1" height="15.9" fill="#b8783e"/>
<rect x="387" y="405.7" width="1" height="15.2" fill="#e25a4a"/>
<rect x="388" y="399.6" width="1" height="21.3" fill="#b8783e"/>
<rect x="389" y="407.5" width="1" height="13.4" fill="#35c935"/>
<rect x="390" y="409.8" width="1" height="11.1" fill="#d9664c"/>
<rect x="391" y="406.4" width="1" height="14.5" fill="#35c935"/>
<rect x="392" y="405.8" width="1" height="15.1" fill="#b8783e"/>
<rect x="393" y="386.9" width="1" height="34.0" fill="#8f9a3c"/>
<rect x="394" y="405.5" width="1" height="15.4" fill="#35c935"/>
<rect x="395" y="404.2" width="1" height="16.7" fill="#35c935"/>
<rect x="396" y="408.0" width="1" height="12.9" fill="#8f9a3c"/>
<rect x="397" y="400.4" width="1" height="20.5" fill="#8f9a3c"/>
<rect x="398" y="406.2" width="1" height="14.7" fill="#35c935"/>
<rect x="399" y="404.5" width="1" height="16.4" fill="#35c935"/>
<rect x="400" y="399.0" width="1" height="21.9" fill="#e25a4a"/>
<rect x="401" y="402.8" width="1" height="18.1" fill="#8f9a3c"/>
<rect x="402" y="402.2" width="1" height="18.7" fill="#4fbf35"/>
<rect x="403" y="404.0" width="1" height="16.9" fill="#d9664c"/>
<rect x="404" y="386.9" width="1" height="34.0" fill="#8f9a3c"/>
<rect x="405" y="403.7" width="1" height="17.2" fill="#8f9a3c"/>
<rect x="406" y="400.2" width="1" height="20.7" fill="#35c935"/>
<rect x="407" y="408.0" width="1" height="12.9" fill="#35c935"/>
<rect x="408" y="408.4" width="1" height="12.5" fill="#8f9a3c"/>
<rect x="409" y="402.9" width="1" height="18.0" fill="#35c935"/>
<rect x="410" y="410.0" width="1" height="10.9" fill="#d9664c"/>
<rect x="411" y="388.0" width="1" height="32.9" fill="#35c935"/>
<rect x="412" y="408.5" width="1" height="12.4" fill="#8f9a3c"/>
<rect x="413" y="406.2" width="1" height="14.7" fill="#35c935"/>
<rect x="414" y="406.0" width="1" height="14.9" fill="#35c935"/>
<rect x="415" y="391.4" width="1" height="29.5" fill="#4fbf35"/>
<rect x="416" y="407.4" width="1" height="13.5" fill="#8f9a3c"/>
<rect x="417" y="404.4" width="1" height="16.5" fill="#35c935"/>
<rect x="418" y="405.1" width="1" height="15.8" fill="#35c935"/>
<rect x="419" y="386.9" width="1" height="34.0" fill="#8f9a3c"/>
<rect x="420" y="401.5" width="1" height="19.4" fill="#35c935"/>
<rect x="421" y="401.4" width="1" height="19.5" fill="#4fbf35"/>
<rect x="422" y="400.8" width="1" height="20.1" fill="#35c935"/>
<rect x="423" y="407.4" width="1" height="13.5" fill="#d9664c"/>
<rect x="424" y="407.7" width="1" height="13.2" fill="#b8783e"/>
<rect x="425" y="408.9" width="1" height="12.0" fill="#d9664c"/>
<rect x="426" y="406.1" width="1" height="14.8" fill="#35c935"/>
<rect x="427" y="403.5" width="1" height="17.4" fill="#b8783e"/>
<rect x="428" y="407.7" width="1" height="13.2" fill="#e25a4a"/>
<rect x="429" y="407.5" width="1" height="13.4" fill="#35c935"/>
<rect x="430" y="407.5" width="1" height="13.4" fill="#b8783e"/>
<rect x="431" y="393.0" width="1" height="27.9" fill="#8f9a3c"/>
<rect x="432" y="396.5" width="1" height="24.4" fill="#4fbf35"/>
<rect x="433" y="405.6" width="1" height="15.3" fill="#8f9a3c"/>
<rect x="434" y="398.1" width="1" height="22.8" fill="#d9664c"/>
<rect x="435" y="397.4" width="1" height="23.5" fill="#d9664c"/>
<rect x="436" y="402.6" width="1" height="18.3" fill="#35c935"/>
<rect x="437" y="402.0" width="1" height="18.9" fill="#b8783e"/>
<rect x="438" y="409.4" width="1" height="11.5" fill="#8f9a3c"/>
<rect x="439" y="406.7" width="1" height="14.2" fill="#8f9a3c"/>
<rect x="440" y="402.1" width="1" height="18.8" fill="#35c935"/>
<rect x="441" y="407.5" width="1" height="13.4" fill="#e25a4a"/>
<rect x="442" y="396.8" width="1" height="24.1" fill="#4fbf35"/>
<rect x="443" y="397.3" width="1" height="23.6" fill="#d9664c"/>
<rect x="444" y="392.5" width="1" height="28.4" fill="#35c935"/>
<rect x="445" y="410.1" width="1" height="10.8" fill="#8f9a3c"/>
<rect x="446" y="405.6" width="1" height="15.3" fill="#e25a4a"/>
<rect x="447" y="409.3" width="1" height="11.6" fill="#8f9a3c"/>
<rect x="448" y="400.1" width="1" height="20.8" fill="#8f9a3c"/>
<rect x="449" y="395.4" width="1" height="25.5" fill="#4fbf35"/>
<rect x="450" y="405.7" width="1" height="15.2" fill="#35c935"/>
<rect x="451" y="405.7" width="1" height="15.2" fill="#4fbf35"/>
<rect x="452" y="411.9" width="1" height="9.0" fill="#35c935"/>
<rect x="453" y="408.8" width="1" height="12.1" fill="#4fbf35"/>
<rect x="454" y="407.8" width="1" height="13.1" fill="#d9664c"/>
<rect x="455" y="402.4" width="1" height="18.5" fill="#8f9a3c"/>
<rect x="456" y="386.9" width="1" height="34.0" fill="#b8783e"/>
<rect x="457" y="399.4" width="1" height="21.5" fill="#8f9a3c"/>
<rect x="458" y="404.8" width="1" height="16.1" fill="#8f9a3c"/>
<rect x="459" y="409.0" width="1" height="11.9" fill="#4fbf35"/>
<rect x="460" y="397.7" width="1" height="23.2" fill="#8f9a3c"/>
<rect x="461" y="407.7" width="1" height="13.2" fill="#e25a4a"/>
<rect x="462" y="399.5" width="1" height="21.4" fill="#8f9a3c"/>
<rect x="463" y="408.1" width="1" height="12.8" fill="#b8783e"/>
<rect x="343" y="392" width="1" height="28.9" fill="#e25a4a"/>
<rect x="344" y="380" width="1" height="40.9" fill="#e25a4a"/>
<rect x="345" y="372" width="1" height="48.9" fill="#d9664c"/>
<rect x="346" y="385" width="1" height="35.9" fill="#e25a4a"/>
<rect x="347" y="398" width="1" height="22.9" fill="#3cc43c"/>
<rect x="348" y="400" width="1" height="20.9" fill="#3cc43c"/>
<rect x="349" y="396" width="1" height="24.9" fill="#3cc43c"/>
<rect x="350" y="401" width="1" height="19.9" fill="#3cc43c"/>
<rect x="351" y="399" width="1" height="21.9" fill="#3cc43c"/>
<rect x="352" y="402" width="1" height="18.9" fill="#3cc43c"/>
<rect x="353" y="398" width="1" height="22.9" fill="#56b83a"/>
<rect x="354" y="403" width="1" height="17.9" fill="#3cc43c"/>
<rect x="355" y="400" width="1" height="20.9" fill="#8f9a3c"/>
<rect x="35" y="372" width="1" height="48.9" fill="#3cc43c"/>
<rect x="58" y="373" width="1" height="47.9" fill="#3cc43c"/>
<rect x="109" y="385" width="1" height="35.9" fill="#e06a6a"/>
<rect x="134" y="372" width="1" height="48.9" fill="#3cc43c"/>
<rect x="141" y="385" width="1" height="35.9" fill="#3cc43c"/>
<rect x="177" y="372" width="1" height="48.9" fill="#e06a6a"/>
<rect x="193" y="372" width="1" height="48.9" fill="#e06a6a"/>
<rect x="204" y="390" width="1" height="30.9" fill="#3cc43c"/>
<rect x="239" y="388" width="1" height="32.9" fill="#3cc43c"/>
<rect x="262" y="385" width="1" height="35.9" fill="#e06a6a"/>
<rect x="270" y="382" width="1" height="38.9" fill="#e06a6a"/>
<rect x="285" y="390" width="1" height="30.9" fill="#e06a6a"/>
<rect x="333" y="367" width="1" height="53.9" fill="#e06a6a"/>
<rect x="345" y="370" width="1" height="50.9" fill="#e06a6a"/>
<rect x="409" y="369" width="1" height="51.9" fill="#e06a6a"/>
<rect x="441" y="389" width="1" height="31.9" fill="#e06a6a"/>
<rect x="93" y="368" width="1" height="52.9" fill="#3cc43c"/>
<rect x="304" y="368" width="1" height="52.9" fill="#3cc43c"/>
<rect x="375" y="368" width="1" height="52.9" fill="#3cc43c"/>
<rect x="430" y="368" width="1" height="52.9" fill="#e06a6a"/>
<path d="M90.0,371 L93.5,366.5 L97.0,371 Z" fill="#2fbf2f"/>
<path d="M300.5,371 L304,366.5 L307.5,371 Z" fill="#2fbf2f"/>
<path d="M371.5,371 L375,366.5 L378.5,371 Z" fill="#2fbf2f"/>
<path d="M426.5,371 L430,366.5 L433.5,371 Z" fill="#e0604a"/>
</svg>
<div class="t" style="left:30.7px;top:19.8px;font-size:14px;color:#3a4046">08.10.2014  -  Kurs: 123,6557</div>
<div class="yr" style="left:44.4px;top:63px">2013</div>
<div class="yr" style="left:86.6px;top:63px">2014</div>
<div class="yr" style="left:128.8px;top:63px">2015</div>
<div class="yr" style="left:171.0px;top:63px">2016</div>
<div class="yr" style="left:213.2px;top:63px">2017</div>
<div class="yr" style="left:255.4px;top:63px">2018</div>
<div class="yr" style="left:297.6px;top:63px">2019</div>
<div class="yr" style="left:339.8px;top:63px">2020</div>
<div class="yr" style="left:382.0px;top:63px">2021</div>
<div class="yr" style="left:424.2px;top:63px">2022</div>
<div class="t" style="left:467.7px;top:71.0px;font-size:10.4px;color:#444">350 %</div>
<div class="t" style="left:467.7px;top:118.5px;font-size:10.4px;color:#444">300 %</div>
<div class="t" style="left:467.7px;top:166.0px;font-size:10.4px;color:#444">250 %</div>
<div class="t" style="left:467.7px;top:213.4px;font-size:10.4px;color:#444">200 %</div>
<div class="t" style="left:467.7px;top:260.9px;font-size:10.4px;color:#444">150 %</div>
<div class="t" style="left:467.7px;top:308.4px;font-size:10.4px;color:#444">100 %</div>
<div class="t" style="left:31.5px;top:331px;font-size:10.6px;color:#333">279,0%HL</div>
<div class="t" style="left:100.4px;top:331px;font-size:10.6px;color:#333">Intervall: 1 Tag</div>
<div class="t" style="left:186.2px;top:331px;font-size:10.6px;color:#333">Hoch:</div>
<div class="t" style="left:218.6px;top:331px;font-size:10.6px;color:#333">378,964</div>
<div class="t" style="left:275.7px;top:331px;font-size:10.6px;color:#333">Tief:</div>
<div class="t" style="left:301.9px;top:331px;font-size:10.6px;color:#333">100,00</div>
<div class="t" style="left:31px;top:352.5px;font-size:10.2px;color:#333">Volumen (rot-grün)</div>
<div class="t" style="left:142.8px;top:352.5px;font-size:10.2px;color:#333">Steigende Kurse</div>
<div class="t" style="left:236.4px;top:352.5px;font-size:10.2px;color:#333">Fallende Kurse</div>
<div style="position:absolute;left:134.8px;top:351.5px;width:2.4px;height:10px;background:#2fbf2f"></div>
<div style="position:absolute;left:228.8px;top:351.5px;width:2.4px;height:10px;background:#e06070"></div>
<div class="t" style="left:467.7px;top:371.3px;font-size:10.2px;color:#444">600.000</div>
<div class="t" style="left:467.7px;top:385.3px;font-size:10.2px;color:#444">400.000</div>
<div class="t" style="left:467.7px;top:400.3px;font-size:10.2px;color:#444">200.000</div>
<div class="t" style="left:467.7px;top:414.9px;font-size:10.2px;color:#444">0</div>
<div class="t" style="left:30.5px;top:426px;font-size:9.7px;color:#b8b8b8">29.12.2022 15:19 Uhr</div>
<div class="btn" style="left:44px;width:96px"><span class="t" style="left:17.5px;top:9.6px">Kursdaten</span></div>
<div class="btn" style="left:158.2px;width:139px"><span class="t" style="left:16.3px;top:9.6px">Chart vergrößern</span></div>
<div class="t h" style="left:597.9px;top:48.5px">Chartansichten speichern</div>
<div class="t sub" style="left:611px;top:75px">Mehr anzeigen</div>
<svg style="position:absolute;left:600px;top:76px" width="8" height="10"><path d="M2,1.5 L5.5,4.8 L2,8.1" fill="none" stroke="#777" stroke-width="1.4"/></svg>
<div class="div" style="top:101px"></div>
<div class="t h" style="left:598px;top:120.2px">Zeitraum</div>
<svg style="position:absolute;left:599px;top:148px" width="10" height="8"><path d="M1.3,2 L4.8,5.5 L8.3,2" fill="none" stroke="#777" stroke-width="1.4"/></svg>
<div class="t sub" style="left:614.2px;top:147.5px">Zeitraum frei wählen</div>
<div class="inp" style="left:598px;top:180.3px;width:99.5px;height:29.6px"></div>
<div class="inp" style="left:734px;top:180.3px;width:99.5px;height:29.6px"></div>
<div class="t" style="left:606.7px;top:189px;font-size:14px;color:#2b3640">30.09.2012</div>
<div class="t" style="left:742.9px;top:189px;font-size:14px;color:#2b3640">29.12.2022</div>
<div class="t" style="left:708px;top:191px;font-size:12.5px;color:#999">bis</div>
<div class="div" style="top:222.8px"></div>
<div class="t h" style="left:598px;top:242.5px">Darstellungen</div>
<svg style="position:absolute;left:0;top:0" width="860" height="491">
<path d="M598.3,273.3 L602.8,264.6 L605.3,268.4 L609.5,262 L610.3,262.5 L610.3,273.3 Z" fill="#2a8a38"/>
<path d="M635.2,272.7 L638.6,266 L642.2,272.7 L646,262.5" fill="none" stroke="#1e2428" stroke-width="1.8" stroke-linecap="round" stroke-linejoin="round"/>
<path d="M672.6,273 L674.3,269.5 M675.4,266.4 L678.2,269.5 M679.2,272.7 L681.3,268.5 M681.8,266.8 L683.4,262.9" fill="none" stroke="#1e2428" stroke-width="1.8" stroke-linecap="round"/>
<g fill="#1e2428"><rect x="708.6" y="268.8" width="1.8" height="4"/><rect x="710.7" y="266" width="1.8" height="5.8"/><rect x="713.1" y="267.8" width="1.7" height="2.8"/><rect x="715.9" y="262.7" width="1.9" height="10.5"/><rect x="718.9" y="262.7" width="1.8" height="6"/></g>
<g fill="none" stroke="#1e2428" stroke-width="1.6"><path d="M746.6,264.6 V273.3 M746.6,268 H749.5 M751.2,266 V271.8 M749.5,269.5 H753 M755.2,262.5 V273.7 M753,268.6 H755.2 M755.2,265.6 H757"/></g>
<g><path d="M784.3,263.9 V273.3" stroke="#1e2428" stroke-width="1.5"/><rect x="782.2" y="266.3" width="4.2" height="5.3" rx="0.8" fill="#1e2428"/><path d="M791.3,261.8 V274" stroke="#1e2428" stroke-width="1.5"/><rect x="789.55" y="264.25" width="3.4" height="7.6" rx="0.8" fill="#fff" stroke="#1e2428" stroke-width="1.5"/></g>
<rect x="597.7" y="290.3" width="19.2" height="19.1" rx="3" fill="#17242c"/>
<path d="M602.2,300 L606.5,303.8 L613.6,296.4" fill="none" stroke="#fff" stroke-width="2.2" stroke-linecap="round" stroke-linejoin="round"/>
<circle cx="804.8" cy="299.3" r="5.6" fill="none" stroke="#222" stroke-width="1.4"/>
<rect x="804" y="298" width="1.6" height="4.5" fill="#222"/><rect x="804" y="295.5" width="1.6" height="1.6" fill="#222"/>
<rect x="598" y="450.3" width="19.3" height="19.5" rx="3" fill="#2d7fd9"/>
<path d="M602.5,460 L606.6,463.8 L613.4,456.5" fill="none" stroke="#fff" stroke-width="2.2" stroke-linecap="round" stroke-linejoin="round"/>
<circle cx="825" cy="460.7" r="6" fill="none" stroke="#222" stroke-width="1.4"/>
<rect x="822" y="460" width="6" height="1.5" fill="#222"/>
</svg>
<div class="t" style="left:624.6px;top:293px;font-size:13px;color:#3a4046">Interaktive Kursinformationen</div>
<svg style="position:absolute;left:600px;top:327px" width="8" height="10"><path d="M2,1.5 L5.5,4.8 L2,8.1" fill="none" stroke="#777" stroke-width="1.4"/></svg>
<div class="t sub" style="left:611px;top:327px">Mehr Kriterien</div>
<div class="div" style="top:353.2px"></div>
<div class="t h" style="left:598px;top:372.5px">Vergleich</div>
<div class="inp" style="left:598px;top:395.7px;width:186px;height:29.4px"></div>
<div style="position:absolute;left:755px;top:397px;width:1px;height:27px;background:#d4d4d4"></div>
<svg style="position:absolute;left:765px;top:406px" width="12" height="10"><path d="M1.5,2.5 L5.5,6.5 L9.5,2.5" fill="none" stroke="#222" stroke-width="1.8"/></svg>
<div class="inp" style="left:804px;top:395.7px;width:29.5px;height:29.4px"></div>
<svg style="position:absolute;left:812.3px;top:404.5px" width="14" height="14"><circle cx="5.3" cy="5.3" r="3.3" fill="none" stroke="#222" stroke-width="1.8"/><path d="M7.6,7.6 L11.3,11.3" stroke="#222" stroke-width="2.6" stroke-linecap="round"/></svg>
<div class="t" style="left:606.7px;top:405px;font-size:14.5px;color:#2b3640">Index / Festgeld</div>
<div class="t" style="left:598px;top:432.5px;font-size:12.5px;color:#9a9a9a">Ihre Auswahl</div>
<div class="t" style="left:624.6px;top:453.7px;font-size:12.2px;color:#333;text-decoration:underline">TALANX AG</div>
<div class="div" style="top:476.2px"></div>
</body></html>
